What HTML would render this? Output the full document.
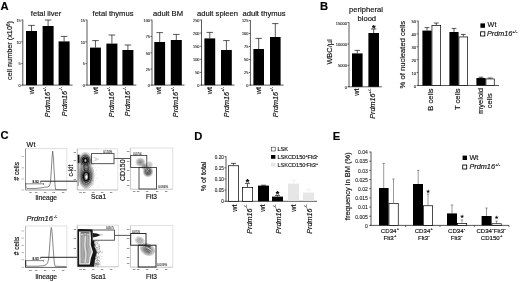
<!DOCTYPE html>
<html><head><meta charset="utf-8"><title>Figure</title>
<style>
html,body{margin:0;padding:0;background:#fff;}
svg{display:block;font-family:'Liberation Sans', sans-serif;}
</style></head><body>
<svg width="520" height="282" viewBox="0 0 520 282">
<rect width="520" height="282" fill="#fff"/>
<text x="0.60" y="10.10" font-size="11.2" text-anchor="start" font-weight="bold" font-style="normal" fill="#000" stroke="#000" stroke-width="0.16" >A</text>
<line x1="22.80" y1="19.70" x2="22.80" y2="85.45" stroke="#111" stroke-width="0.7" />
<line x1="22.45" y1="85.10" x2="72.60" y2="85.10" stroke="#111" stroke-width="0.7" />
<line x1="21.20" y1="20.00" x2="22.80" y2="20.00" stroke="#111" stroke-width="0.6" />
<text x="20.70" y="21.87" font-size="3.8" text-anchor="end" font-weight="normal" font-style="normal" fill="#222" stroke="#222" stroke-width="0.1" >15</text>
<line x1="21.20" y1="41.80" x2="22.80" y2="41.80" stroke="#111" stroke-width="0.6" />
<text x="20.70" y="43.67" font-size="3.8" text-anchor="end" font-weight="normal" font-style="normal" fill="#222" stroke="#222" stroke-width="0.1" >10</text>
<line x1="21.20" y1="63.60" x2="22.80" y2="63.60" stroke="#111" stroke-width="0.6" />
<text x="20.70" y="65.47" font-size="3.8" text-anchor="end" font-weight="normal" font-style="normal" fill="#222" stroke="#222" stroke-width="0.1" >5</text>
<line x1="21.20" y1="85.10" x2="22.80" y2="85.10" stroke="#111" stroke-width="0.6" />
<text x="20.70" y="86.97" font-size="3.8" text-anchor="end" font-weight="normal" font-style="normal" fill="#222" stroke="#222" stroke-width="0.1" >0</text>
<line x1="31.50" y1="25.40" x2="31.50" y2="31.00" stroke="#111" stroke-width="0.7" />
<line x1="28.20" y1="25.40" x2="34.80" y2="25.40" stroke="#111" stroke-width="0.7" />
<rect x="26.00" y="31.00" width="11.00" height="54.10" fill="#000" stroke="none" stroke-width="0.7" />
<line x1="48.10" y1="20.00" x2="48.10" y2="26.00" stroke="#111" stroke-width="0.7" />
<line x1="44.80" y1="20.00" x2="51.40" y2="20.00" stroke="#111" stroke-width="0.7" />
<rect x="42.60" y="26.00" width="11.00" height="59.10" fill="#000" stroke="none" stroke-width="0.7" />
<line x1="64.10" y1="36.40" x2="64.10" y2="41.40" stroke="#111" stroke-width="0.7" />
<line x1="60.80" y1="36.40" x2="67.40" y2="36.40" stroke="#111" stroke-width="0.7" />
<rect x="58.60" y="41.40" width="11.00" height="43.70" fill="#000" stroke="none" stroke-width="0.7" />
<text x="34.00" y="87.00" font-size="7.2" text-anchor="end" font-weight="normal" font-style="normal" fill="#111" stroke="#111" stroke-width="0.16" transform="rotate(-90 34.00 87.00)" >wt</text>
<text x="50.30" y="87.00" font-size="7.2" text-anchor="end" font-weight="normal" font-style="italic" fill="#111" stroke="#111" stroke-width="0.16" transform="rotate(-90 50.30 87.00)" >Prdm16<tspan font-size="4.0" dy="-4.3" dx="0.2">+/-</tspan></text>
<text x="66.80" y="87.00" font-size="7.2" text-anchor="end" font-weight="normal" font-style="italic" fill="#111" stroke="#111" stroke-width="0.16" transform="rotate(-90 66.80 87.00)" >Prdm16<tspan font-size="4.0" dy="-4.3" dx="0.2">-/-</tspan></text>
<text x="46.00" y="15.60" font-size="7.6" text-anchor="middle" font-weight="normal" font-style="normal" fill="#111" stroke="#111" stroke-width="0.16" >fetal liver</text>
<text x="12.20" y="50.50" font-size="7.3" text-anchor="middle" font-weight="normal" font-style="normal" fill="#111" stroke="#111" stroke-width="0.16" transform="rotate(-90 12.20 50.50)" >cell number (x10<tspan font-size="4.6" dy="-2.6">6</tspan><tspan dy="2.6">)</tspan></text>
<line x1="87.00" y1="19.70" x2="87.00" y2="85.45" stroke="#111" stroke-width="0.7" />
<line x1="86.65" y1="85.10" x2="136.40" y2="85.10" stroke="#111" stroke-width="0.7" />
<line x1="85.40" y1="20.00" x2="87.00" y2="20.00" stroke="#111" stroke-width="0.6" />
<text x="84.90" y="21.87" font-size="3.8" text-anchor="end" font-weight="normal" font-style="normal" fill="#222" stroke="#222" stroke-width="0.1" >15</text>
<line x1="85.40" y1="41.80" x2="87.00" y2="41.80" stroke="#111" stroke-width="0.6" />
<text x="84.90" y="43.67" font-size="3.8" text-anchor="end" font-weight="normal" font-style="normal" fill="#222" stroke="#222" stroke-width="0.1" >10</text>
<line x1="85.40" y1="63.60" x2="87.00" y2="63.60" stroke="#111" stroke-width="0.6" />
<text x="84.90" y="65.47" font-size="3.8" text-anchor="end" font-weight="normal" font-style="normal" fill="#222" stroke="#222" stroke-width="0.1" >5</text>
<line x1="85.40" y1="85.10" x2="87.00" y2="85.10" stroke="#111" stroke-width="0.6" />
<text x="84.90" y="86.97" font-size="3.8" text-anchor="end" font-weight="normal" font-style="normal" fill="#222" stroke="#222" stroke-width="0.1" >0</text>
<line x1="95.45" y1="40.60" x2="95.45" y2="47.60" stroke="#111" stroke-width="0.7" />
<line x1="92.18" y1="40.60" x2="98.72" y2="40.60" stroke="#111" stroke-width="0.7" />
<rect x="90.00" y="47.60" width="10.90" height="37.50" fill="#000" stroke="none" stroke-width="0.7" />
<line x1="111.90" y1="35.00" x2="111.90" y2="43.60" stroke="#111" stroke-width="0.7" />
<line x1="108.60" y1="35.00" x2="115.20" y2="35.00" stroke="#111" stroke-width="0.7" />
<rect x="106.40" y="43.60" width="11.00" height="41.50" fill="#000" stroke="none" stroke-width="0.7" />
<line x1="127.90" y1="45.00" x2="127.90" y2="50.00" stroke="#111" stroke-width="0.7" />
<line x1="124.60" y1="45.00" x2="131.20" y2="45.00" stroke="#111" stroke-width="0.7" />
<rect x="122.40" y="50.00" width="11.00" height="35.10" fill="#000" stroke="none" stroke-width="0.7" />
<text x="97.60" y="87.00" font-size="7.2" text-anchor="end" font-weight="normal" font-style="normal" fill="#111" stroke="#111" stroke-width="0.16" transform="rotate(-90 97.60 87.00)" >wt</text>
<text x="114.10" y="87.00" font-size="7.2" text-anchor="end" font-weight="normal" font-style="italic" fill="#111" stroke="#111" stroke-width="0.16" transform="rotate(-90 114.10 87.00)" >Prdm16<tspan font-size="4.0" dy="-4.3" dx="0.2">+/-</tspan></text>
<text x="130.40" y="87.00" font-size="7.2" text-anchor="end" font-weight="normal" font-style="italic" fill="#111" stroke="#111" stroke-width="0.16" transform="rotate(-90 130.40 87.00)" >Prdm16<tspan font-size="4.0" dy="-4.3" dx="0.2">-/-</tspan></text>
<text x="113.00" y="15.60" font-size="7.6" text-anchor="middle" font-weight="normal" font-style="normal" fill="#111" stroke="#111" stroke-width="0.16" >fetal thymus</text>
<line x1="152.00" y1="19.70" x2="152.00" y2="85.45" stroke="#111" stroke-width="0.7" />
<line x1="151.65" y1="85.10" x2="184.50" y2="85.10" stroke="#111" stroke-width="0.7" />
<line x1="150.40" y1="20.00" x2="152.00" y2="20.00" stroke="#111" stroke-width="0.6" />
<text x="149.90" y="21.87" font-size="3.8" text-anchor="end" font-weight="normal" font-style="normal" fill="#222" stroke="#222" stroke-width="0.1" >100</text>
<line x1="150.40" y1="36.40" x2="152.00" y2="36.40" stroke="#111" stroke-width="0.6" />
<text x="149.90" y="38.27" font-size="3.8" text-anchor="end" font-weight="normal" font-style="normal" fill="#222" stroke="#222" stroke-width="0.1" >75</text>
<line x1="150.40" y1="52.80" x2="152.00" y2="52.80" stroke="#111" stroke-width="0.6" />
<text x="149.90" y="54.67" font-size="3.8" text-anchor="end" font-weight="normal" font-style="normal" fill="#222" stroke="#222" stroke-width="0.1" >50</text>
<line x1="150.40" y1="69.10" x2="152.00" y2="69.10" stroke="#111" stroke-width="0.6" />
<text x="149.90" y="70.97" font-size="3.8" text-anchor="end" font-weight="normal" font-style="normal" fill="#222" stroke="#222" stroke-width="0.1" >25</text>
<line x1="150.40" y1="85.10" x2="152.00" y2="85.10" stroke="#111" stroke-width="0.6" />
<text x="149.90" y="86.97" font-size="3.8" text-anchor="end" font-weight="normal" font-style="normal" fill="#222" stroke="#222" stroke-width="0.1" >0</text>
<line x1="159.70" y1="32.60" x2="159.70" y2="42.00" stroke="#111" stroke-width="0.7" />
<line x1="156.46" y1="32.60" x2="162.94" y2="32.60" stroke="#111" stroke-width="0.7" />
<rect x="154.30" y="42.00" width="10.80" height="43.10" fill="#000" stroke="none" stroke-width="0.7" />
<line x1="176.30" y1="34.40" x2="176.30" y2="40.00" stroke="#111" stroke-width="0.7" />
<line x1="173.00" y1="34.40" x2="179.60" y2="34.40" stroke="#111" stroke-width="0.7" />
<rect x="170.80" y="40.00" width="11.00" height="45.10" fill="#000" stroke="none" stroke-width="0.7" />
<text x="161.20" y="87.00" font-size="7.2" text-anchor="end" font-weight="normal" font-style="normal" fill="#111" stroke="#111" stroke-width="0.16" transform="rotate(-90 161.20 87.00)" >wt</text>
<text x="178.40" y="87.00" font-size="7.2" text-anchor="end" font-weight="normal" font-style="italic" fill="#111" stroke="#111" stroke-width="0.16" transform="rotate(-90 178.40 87.00)" >Prdm16<tspan font-size="4.0" dy="-4.3" dx="0.2">+/-</tspan></text>
<text x="168.00" y="15.60" font-size="7.6" text-anchor="middle" font-weight="normal" font-style="normal" fill="#111" stroke="#111" stroke-width="0.16" >adult BM</text>
<line x1="201.50" y1="19.70" x2="201.50" y2="85.45" stroke="#111" stroke-width="0.7" />
<line x1="201.15" y1="85.10" x2="234.50" y2="85.10" stroke="#111" stroke-width="0.7" />
<line x1="199.90" y1="20.00" x2="201.50" y2="20.00" stroke="#111" stroke-width="0.6" />
<text x="199.40" y="21.87" font-size="3.8" text-anchor="end" font-weight="normal" font-style="normal" fill="#222" stroke="#222" stroke-width="0.1" >250</text>
<line x1="199.90" y1="33.10" x2="201.50" y2="33.10" stroke="#111" stroke-width="0.6" />
<text x="199.40" y="34.97" font-size="3.8" text-anchor="end" font-weight="normal" font-style="normal" fill="#222" stroke="#222" stroke-width="0.1" >200</text>
<line x1="199.90" y1="46.20" x2="201.50" y2="46.20" stroke="#111" stroke-width="0.6" />
<text x="199.40" y="48.07" font-size="3.8" text-anchor="end" font-weight="normal" font-style="normal" fill="#222" stroke="#222" stroke-width="0.1" >150</text>
<line x1="199.90" y1="59.30" x2="201.50" y2="59.30" stroke="#111" stroke-width="0.6" />
<text x="199.40" y="61.17" font-size="3.8" text-anchor="end" font-weight="normal" font-style="normal" fill="#222" stroke="#222" stroke-width="0.1" >100</text>
<line x1="199.90" y1="72.40" x2="201.50" y2="72.40" stroke="#111" stroke-width="0.6" />
<text x="199.40" y="74.27" font-size="3.8" text-anchor="end" font-weight="normal" font-style="normal" fill="#222" stroke="#222" stroke-width="0.1" >50</text>
<line x1="199.90" y1="85.10" x2="201.50" y2="85.10" stroke="#111" stroke-width="0.6" />
<text x="199.40" y="86.97" font-size="3.8" text-anchor="end" font-weight="normal" font-style="normal" fill="#222" stroke="#222" stroke-width="0.1" >0</text>
<line x1="209.80" y1="32.40" x2="209.80" y2="38.40" stroke="#111" stroke-width="0.7" />
<line x1="206.56" y1="32.40" x2="213.04" y2="32.40" stroke="#111" stroke-width="0.7" />
<rect x="204.40" y="38.40" width="10.80" height="46.70" fill="#000" stroke="none" stroke-width="0.7" />
<line x1="226.40" y1="40.60" x2="226.40" y2="50.00" stroke="#111" stroke-width="0.7" />
<line x1="223.16" y1="40.60" x2="229.64" y2="40.60" stroke="#111" stroke-width="0.7" />
<rect x="221.00" y="50.00" width="10.80" height="35.10" fill="#000" stroke="none" stroke-width="0.7" />
<text x="212.40" y="87.00" font-size="7.2" text-anchor="end" font-weight="normal" font-style="normal" fill="#111" stroke="#111" stroke-width="0.16" transform="rotate(-90 212.40 87.00)" >wt</text>
<text x="228.80" y="87.00" font-size="7.2" text-anchor="end" font-weight="normal" font-style="italic" fill="#111" stroke="#111" stroke-width="0.16" transform="rotate(-90 228.80 87.00)" >Prdm16<tspan font-size="4.0" dy="-4.3" dx="0.2">+/-</tspan></text>
<text x="217.50" y="15.60" font-size="7.6" text-anchor="middle" font-weight="normal" font-style="normal" fill="#111" stroke="#111" stroke-width="0.16" >adult spleen</text>
<line x1="250.40" y1="20.20" x2="250.40" y2="85.45" stroke="#111" stroke-width="0.7" />
<line x1="250.05" y1="85.10" x2="283.60" y2="85.10" stroke="#111" stroke-width="0.7" />
<line x1="248.80" y1="20.50" x2="250.40" y2="20.50" stroke="#111" stroke-width="0.6" />
<text x="248.30" y="22.37" font-size="3.8" text-anchor="end" font-weight="normal" font-style="normal" fill="#222" stroke="#222" stroke-width="0.1" >125</text>
<line x1="248.80" y1="33.50" x2="250.40" y2="33.50" stroke="#111" stroke-width="0.6" />
<text x="248.30" y="35.37" font-size="3.8" text-anchor="end" font-weight="normal" font-style="normal" fill="#222" stroke="#222" stroke-width="0.1" >100</text>
<line x1="248.80" y1="46.50" x2="250.40" y2="46.50" stroke="#111" stroke-width="0.6" />
<text x="248.30" y="48.37" font-size="3.8" text-anchor="end" font-weight="normal" font-style="normal" fill="#222" stroke="#222" stroke-width="0.1" >75</text>
<line x1="248.80" y1="59.50" x2="250.40" y2="59.50" stroke="#111" stroke-width="0.6" />
<text x="248.30" y="61.37" font-size="3.8" text-anchor="end" font-weight="normal" font-style="normal" fill="#222" stroke="#222" stroke-width="0.1" >50</text>
<line x1="248.80" y1="72.50" x2="250.40" y2="72.50" stroke="#111" stroke-width="0.6" />
<text x="248.30" y="74.37" font-size="3.8" text-anchor="end" font-weight="normal" font-style="normal" fill="#222" stroke="#222" stroke-width="0.1" >25</text>
<line x1="248.80" y1="85.10" x2="250.40" y2="85.10" stroke="#111" stroke-width="0.6" />
<text x="248.30" y="86.97" font-size="3.8" text-anchor="end" font-weight="normal" font-style="normal" fill="#222" stroke="#222" stroke-width="0.1" >0</text>
<line x1="258.70" y1="38.40" x2="258.70" y2="49.00" stroke="#111" stroke-width="0.7" />
<line x1="255.52" y1="38.40" x2="261.88" y2="38.40" stroke="#111" stroke-width="0.7" />
<rect x="253.40" y="49.00" width="10.60" height="36.10" fill="#000" stroke="none" stroke-width="0.7" />
<line x1="275.30" y1="23.60" x2="275.30" y2="37.00" stroke="#111" stroke-width="0.7" />
<line x1="272.12" y1="23.60" x2="278.48" y2="23.60" stroke="#111" stroke-width="0.7" />
<rect x="270.00" y="37.00" width="10.60" height="48.10" fill="#000" stroke="none" stroke-width="0.7" />
<text x="261.40" y="87.00" font-size="7.2" text-anchor="end" font-weight="normal" font-style="normal" fill="#111" stroke="#111" stroke-width="0.16" transform="rotate(-90 261.40 87.00)" >wt</text>
<text x="277.80" y="87.00" font-size="7.2" text-anchor="end" font-weight="normal" font-style="italic" fill="#111" stroke="#111" stroke-width="0.16" transform="rotate(-90 277.80 87.00)" >Prdm16<tspan font-size="4.0" dy="-4.3" dx="0.2">+/-</tspan></text>
<text x="264.00" y="15.60" font-size="7.6" text-anchor="middle" font-weight="normal" font-style="normal" fill="#111" stroke="#111" stroke-width="0.16" >adult thymus</text>
<text x="320.00" y="10.10" font-size="11.2" text-anchor="start" font-weight="bold" font-style="normal" fill="#000" stroke="#000" stroke-width="0.16" >B</text>
<text x="366.00" y="11.90" font-size="7.6" text-anchor="middle" font-weight="normal" font-style="normal" fill="#111" stroke="#111" stroke-width="0.16" >peripheral</text>
<text x="366.80" y="20.80" font-size="7.6" text-anchor="middle" font-weight="normal" font-style="normal" fill="#111" stroke="#111" stroke-width="0.16" >blood</text>
<line x1="349.00" y1="22.30" x2="349.00" y2="87.15" stroke="#111" stroke-width="0.7" />
<line x1="348.65" y1="86.80" x2="381.80" y2="86.80" stroke="#111" stroke-width="0.7" />
<line x1="347.40" y1="22.60" x2="349.00" y2="22.60" stroke="#111" stroke-width="0.6" />
<text x="346.90" y="24.54" font-size="4.0" text-anchor="end" font-weight="normal" font-style="normal" fill="#222" stroke="#222" stroke-width="0.1" >15000</text>
<line x1="347.40" y1="44.00" x2="349.00" y2="44.00" stroke="#111" stroke-width="0.6" />
<text x="346.90" y="45.94" font-size="4.0" text-anchor="end" font-weight="normal" font-style="normal" fill="#222" stroke="#222" stroke-width="0.1" >10000</text>
<line x1="347.40" y1="65.40" x2="349.00" y2="65.40" stroke="#111" stroke-width="0.6" />
<text x="346.90" y="67.34" font-size="4.0" text-anchor="end" font-weight="normal" font-style="normal" fill="#222" stroke="#222" stroke-width="0.1" >5000</text>
<line x1="347.40" y1="86.80" x2="349.00" y2="86.80" stroke="#111" stroke-width="0.6" />
<text x="346.90" y="88.74" font-size="4.0" text-anchor="end" font-weight="normal" font-style="normal" fill="#222" stroke="#222" stroke-width="0.1" >0</text>
<line x1="357.30" y1="50.40" x2="357.30" y2="53.40" stroke="#111" stroke-width="0.7" />
<line x1="354.60" y1="50.40" x2="360.00" y2="50.40" stroke="#111" stroke-width="0.7" />
<rect x="352.00" y="53.40" width="10.60" height="33.40" fill="#000" stroke="none" stroke-width="0.7" />
<line x1="373.70" y1="29.00" x2="373.70" y2="33.00" stroke="#111" stroke-width="0.7" />
<line x1="371.00" y1="29.00" x2="376.40" y2="29.00" stroke="#111" stroke-width="0.7" />
<rect x="368.40" y="33.00" width="10.60" height="53.80" fill="#000" stroke="none" stroke-width="0.7" />
<text x="358.80" y="88.60" font-size="7.2" text-anchor="end" font-weight="normal" font-style="normal" fill="#111" stroke="#111" stroke-width="0.16" transform="rotate(-90 358.80 88.60)" >wt</text>
<text x="375.00" y="88.60" font-size="7.2" text-anchor="end" font-weight="normal" font-style="italic" fill="#111" stroke="#111" stroke-width="0.16" transform="rotate(-90 375.00 88.60)" >Prdm16<tspan font-size="4.0" dy="-4.3" dx="0.2">+/-</tspan></text>
<text x="373.70" y="31.20" font-size="9" text-anchor="middle" font-weight="bold" font-style="normal" fill="#000" stroke="#000" stroke-width="0.16" >*</text>
<text x="332.40" y="52.00" font-size="7.4" text-anchor="middle" font-weight="normal" font-style="normal" fill="#111" stroke="#111" stroke-width="0.16" transform="rotate(-90 332.40 52.00)" >WBC/µl</text>
<line x1="418.20" y1="20.70" x2="418.20" y2="85.85" stroke="#111" stroke-width="0.7" />
<line x1="417.85" y1="85.50" x2="499.00" y2="85.50" stroke="#111" stroke-width="0.7" />
<line x1="416.60" y1="21.00" x2="418.20" y2="21.00" stroke="#111" stroke-width="0.6" />
<text x="416.10" y="23.01" font-size="4.2" text-anchor="end" font-weight="normal" font-style="normal" fill="#222" stroke="#222" stroke-width="0.1" >50</text>
<line x1="416.60" y1="33.90" x2="418.20" y2="33.90" stroke="#111" stroke-width="0.6" />
<text x="416.10" y="35.91" font-size="4.2" text-anchor="end" font-weight="normal" font-style="normal" fill="#222" stroke="#222" stroke-width="0.1" >40</text>
<line x1="416.60" y1="46.80" x2="418.20" y2="46.80" stroke="#111" stroke-width="0.6" />
<text x="416.10" y="48.81" font-size="4.2" text-anchor="end" font-weight="normal" font-style="normal" fill="#222" stroke="#222" stroke-width="0.1" >30</text>
<line x1="416.60" y1="59.70" x2="418.20" y2="59.70" stroke="#111" stroke-width="0.6" />
<text x="416.10" y="61.71" font-size="4.2" text-anchor="end" font-weight="normal" font-style="normal" fill="#222" stroke="#222" stroke-width="0.1" >20</text>
<line x1="416.60" y1="72.60" x2="418.20" y2="72.60" stroke="#111" stroke-width="0.6" />
<text x="416.10" y="74.61" font-size="4.2" text-anchor="end" font-weight="normal" font-style="normal" fill="#222" stroke="#222" stroke-width="0.1" >10</text>
<line x1="416.60" y1="85.50" x2="418.20" y2="85.50" stroke="#111" stroke-width="0.6" />
<text x="416.10" y="87.51" font-size="4.2" text-anchor="end" font-weight="normal" font-style="normal" fill="#222" stroke="#222" stroke-width="0.1" >0</text>
<line x1="427.00" y1="27.60" x2="427.00" y2="30.60" stroke="#111" stroke-width="0.7" />
<line x1="424.60" y1="27.60" x2="429.40" y2="27.60" stroke="#111" stroke-width="0.7" />
<rect x="422.40" y="30.60" width="9.20" height="54.90" fill="#000" stroke="none" stroke-width="0.7" />
<line x1="436.30" y1="23.00" x2="436.30" y2="25.20" stroke="#111" stroke-width="0.7" />
<line x1="433.90" y1="23.00" x2="438.70" y2="23.00" stroke="#111" stroke-width="0.7" />
<rect x="431.95" y="25.55" width="8.70" height="59.95" fill="#fff" stroke="#000" stroke-width="0.7" />
<line x1="454.00" y1="28.40" x2="454.00" y2="32.00" stroke="#111" stroke-width="0.7" />
<line x1="451.60" y1="28.40" x2="456.40" y2="28.40" stroke="#111" stroke-width="0.7" />
<rect x="449.40" y="32.00" width="9.20" height="53.50" fill="#000" stroke="none" stroke-width="0.7" />
<line x1="463.30" y1="34.40" x2="463.30" y2="36.60" stroke="#111" stroke-width="0.7" />
<line x1="460.90" y1="34.40" x2="465.70" y2="34.40" stroke="#111" stroke-width="0.7" />
<rect x="458.95" y="36.95" width="8.70" height="48.55" fill="#fff" stroke="#000" stroke-width="0.7" />
<line x1="481.00" y1="77.20" x2="481.00" y2="78.00" stroke="#111" stroke-width="0.7" />
<line x1="478.60" y1="77.20" x2="483.40" y2="77.20" stroke="#111" stroke-width="0.7" />
<rect x="476.40" y="78.00" width="9.20" height="7.50" fill="#000" stroke="none" stroke-width="0.7" />
<line x1="490.10" y1="78.00" x2="490.10" y2="78.60" stroke="#111" stroke-width="0.7" />
<line x1="487.70" y1="78.00" x2="492.50" y2="78.00" stroke="#111" stroke-width="0.7" />
<rect x="485.95" y="78.95" width="8.30" height="6.55" fill="#fff" stroke="#000" stroke-width="0.7" />
<text x="405.40" y="54.60" font-size="7.6" text-anchor="middle" font-weight="normal" font-style="normal" fill="#111" stroke="#111" stroke-width="0.16" transform="rotate(-90 405.40 54.60)" >% of nucleated cells</text>
<text x="432.70" y="88.40" font-size="7.55" text-anchor="end" font-weight="normal" font-style="normal" fill="#111" stroke="#111" stroke-width="0.16" transform="rotate(-90 432.70 88.40)" >B cells</text>
<text x="459.80" y="88.40" font-size="7.55" text-anchor="end" font-weight="normal" font-style="normal" fill="#111" stroke="#111" stroke-width="0.16" transform="rotate(-90 459.80 88.40)" >T cells</text>
<text x="483.20" y="101.00" font-size="7.55" text-anchor="middle" font-weight="normal" font-style="normal" fill="#111" stroke="#111" stroke-width="0.16" transform="rotate(-90 483.20 101.00)" >myeloid</text>
<text x="491.80" y="100.80" font-size="7.45" text-anchor="middle" font-weight="normal" font-style="normal" fill="#111" stroke="#111" stroke-width="0.16" transform="rotate(-90 491.80 100.80)" >cells</text>
<rect x="480.40" y="23.40" width="4.60" height="4.40" fill="#000" stroke="none" stroke-width="0.7" />
<text x="487.60" y="27.30" font-size="7.2" text-anchor="start" font-weight="normal" font-style="normal" fill="#111" stroke="#111" stroke-width="0.16" >Wt</text>
<rect x="480.60" y="31.80" width="4.20" height="4.20" fill="#fff" stroke="#000" stroke-width="0.85" />
<text x="487.00" y="36.10" font-size="7.2" text-anchor="start" font-weight="normal" font-style="italic" fill="#111" stroke="#111" stroke-width="0.16" >Prdm16<tspan font-size="4.2" dy="-3.0" dx="0.2">+/-</tspan></text>
<text x="194.20" y="139.60" font-size="11.2" text-anchor="start" font-weight="bold" font-style="normal" fill="#000" stroke="#000" stroke-width="0.16" >D</text>
<line x1="226.00" y1="156.30" x2="226.00" y2="201.65" stroke="#111" stroke-width="0.7" />
<line x1="225.65" y1="201.30" x2="317.00" y2="201.30" stroke="#111" stroke-width="0.7" />
<line x1="224.40" y1="156.60" x2="226.00" y2="156.60" stroke="#111" stroke-width="0.6" />
<text x="223.90" y="158.79" font-size="4.7" text-anchor="end" font-weight="normal" font-style="normal" fill="#222" stroke="#222" stroke-width="0.1" >0.20</text>
<line x1="224.40" y1="167.80" x2="226.00" y2="167.80" stroke="#111" stroke-width="0.6" />
<text x="223.90" y="169.99" font-size="4.7" text-anchor="end" font-weight="normal" font-style="normal" fill="#222" stroke="#222" stroke-width="0.1" >0.15</text>
<line x1="224.40" y1="179.00" x2="226.00" y2="179.00" stroke="#111" stroke-width="0.6" />
<text x="223.90" y="181.19" font-size="4.7" text-anchor="end" font-weight="normal" font-style="normal" fill="#222" stroke="#222" stroke-width="0.1" >0.10</text>
<line x1="224.40" y1="190.10" x2="226.00" y2="190.10" stroke="#111" stroke-width="0.6" />
<text x="223.90" y="192.29" font-size="4.7" text-anchor="end" font-weight="normal" font-style="normal" fill="#222" stroke="#222" stroke-width="0.1" >0.05</text>
<line x1="224.40" y1="201.30" x2="226.00" y2="201.30" stroke="#111" stroke-width="0.6" />
<text x="223.90" y="203.49" font-size="4.7" text-anchor="end" font-weight="normal" font-style="normal" fill="#222" stroke="#222" stroke-width="0.1" >0</text>
<line x1="233.50" y1="163.40" x2="233.50" y2="165.40" stroke="#111" stroke-width="0.7" />
<line x1="231.00" y1="163.40" x2="236.00" y2="163.40" stroke="#111" stroke-width="0.7" />
<rect x="228.35" y="165.75" width="10.30" height="35.55" fill="#fff" stroke="#000" stroke-width="0.7" />
<line x1="247.50" y1="183.40" x2="247.50" y2="187.00" stroke="#111" stroke-width="0.7" />
<line x1="245.00" y1="183.40" x2="250.00" y2="183.40" stroke="#111" stroke-width="0.7" />
<rect x="242.35" y="187.35" width="10.30" height="13.95" fill="#fff" stroke="#000" stroke-width="0.7" />
<line x1="263.50" y1="185.20" x2="263.50" y2="185.60" stroke="#111" stroke-width="0.7" />
<line x1="261.00" y1="185.20" x2="266.00" y2="185.20" stroke="#111" stroke-width="0.7" />
<rect x="258.00" y="185.60" width="11.00" height="15.70" fill="#000" stroke="none" stroke-width="0.7" />
<line x1="277.50" y1="195.40" x2="277.50" y2="196.60" stroke="#111" stroke-width="0.7" />
<line x1="275.00" y1="195.40" x2="280.00" y2="195.40" stroke="#111" stroke-width="0.7" />
<rect x="272.00" y="196.60" width="11.00" height="4.70" fill="#000" stroke="none" stroke-width="0.7" />
<text x="237.00" y="204.60" font-size="7.2" text-anchor="end" font-weight="normal" font-style="normal" fill="#111" stroke="#111" stroke-width="0.16" transform="rotate(-90 237.00 204.60)" >wt</text>
<text x="251.80" y="204.60" font-size="7.2" text-anchor="end" font-weight="normal" font-style="italic" fill="#111" stroke="#111" stroke-width="0.16" transform="rotate(-90 251.80 204.60)" >Prdm16<tspan font-size="4.0" dy="-4.3" dx="0.2">-/-</tspan></text>
<text x="265.00" y="204.60" font-size="7.2" text-anchor="end" font-weight="normal" font-style="normal" fill="#111" stroke="#111" stroke-width="0.16" transform="rotate(-90 265.00 204.60)" >wt</text>
<text x="280.80" y="204.60" font-size="7.2" text-anchor="end" font-weight="normal" font-style="italic" fill="#111" stroke="#111" stroke-width="0.16" transform="rotate(-90 280.80 204.60)" >Prdm16<tspan font-size="4.0" dy="-4.3" dx="0.2">-/-</tspan></text>
<line x1="293.50" y1="180.00" x2="293.50" y2="183.60" stroke="#ebebeb" stroke-width="0.7" />
<line x1="291.00" y1="180.00" x2="296.00" y2="180.00" stroke="#ebebeb" stroke-width="0.7" />
<rect x="288.00" y="183.60" width="11.00" height="17.40" fill="#e6e6e6" stroke="none" stroke-width="0.7" />
<line x1="308.50" y1="189.40" x2="308.50" y2="192.60" stroke="#ebebeb" stroke-width="0.7" />
<line x1="306.00" y1="189.40" x2="311.00" y2="189.40" stroke="#ebebeb" stroke-width="0.7" />
<rect x="303.00" y="192.60" width="11.00" height="8.40" fill="#e6e6e6" stroke="none" stroke-width="0.7" />
<text x="295.80" y="204.60" font-size="7.2" text-anchor="end" font-weight="normal" font-style="normal" fill="#111" stroke="#111" stroke-width="0.16" transform="rotate(-90 295.80 204.60)" >wt</text>
<text x="311.60" y="204.60" font-size="7.2" text-anchor="end" font-weight="normal" font-style="italic" fill="#111" stroke="#111" stroke-width="0.16" transform="rotate(-90 311.60 204.60)" >Prdm16<tspan font-size="4.0" dy="-4.3" dx="0.2">-/-</tspan></text>
<text x="247.60" y="184.60" font-size="9" text-anchor="middle" font-weight="bold" font-style="normal" fill="#000" stroke="#000" stroke-width="0.16" >*</text>
<text x="277.50" y="197.20" font-size="9" text-anchor="middle" font-weight="bold" font-style="normal" fill="#000" stroke="#000" stroke-width="0.16" >*</text>
<text x="206.30" y="176.40" font-size="7.1" text-anchor="middle" font-weight="normal" font-style="normal" fill="#111" stroke="#111" stroke-width="0.16" transform="rotate(-90 206.30 176.40)" >% of total</text>
<rect x="271.30" y="147.20" width="3.90" height="3.80" fill="#fff" stroke="#333" stroke-width="0.6" />
<text x="277.40" y="151.20" font-size="5.6" text-anchor="start" font-weight="normal" font-style="normal" fill="#111" stroke="#111" stroke-width="0.16" >LSK</text>
<rect x="271.00" y="155.00" width="4.40" height="3.80" fill="#000" stroke="none" stroke-width="0.7" />
<text x="277.40" y="159.10" font-size="5.6" text-anchor="start" font-weight="normal" font-style="normal" fill="#111" stroke="#111" stroke-width="0.16" >LSKCD150<tspan font-size="3.6" dy="-2">+</tspan><tspan dy="2">Flt3</tspan><tspan font-size="3.6" dy="-2">-</tspan></text>
<rect x="271.00" y="162.60" width="4.40" height="3.80" fill="#e6e6e6" stroke="none" stroke-width="0.7" />
<text x="277.40" y="166.80" font-size="5.6" text-anchor="start" font-weight="normal" font-style="normal" fill="#222" stroke="#222" stroke-width="0.16" >LSKCD150<tspan font-size="3.6" dy="-2">-</tspan><tspan dy="2">Flt3</tspan><tspan font-size="3.6" dy="-2">+</tspan></text>
<text x="332.80" y="139.60" font-size="11.2" text-anchor="start" font-weight="bold" font-style="normal" fill="#000" stroke="#000" stroke-width="0.16" >E</text>
<line x1="383.70" y1="163.40" x2="383.70" y2="188.00" stroke="#555" stroke-width="0.6" />
<line x1="382.50" y1="163.40" x2="384.90" y2="163.40" stroke="#555" stroke-width="0.6" />
<line x1="393.50" y1="179.00" x2="393.50" y2="203.00" stroke="#555" stroke-width="0.6" />
<line x1="392.30" y1="179.00" x2="394.70" y2="179.00" stroke="#555" stroke-width="0.6" />
<line x1="418.20" y1="170.40" x2="418.20" y2="184.00" stroke="#555" stroke-width="0.6" />
<line x1="417.00" y1="170.40" x2="419.40" y2="170.40" stroke="#555" stroke-width="0.6" />
<line x1="428.00" y1="194.00" x2="428.00" y2="205.40" stroke="#555" stroke-width="0.6" />
<line x1="426.80" y1="194.00" x2="429.20" y2="194.00" stroke="#555" stroke-width="0.6" />
<line x1="452.00" y1="205.00" x2="452.00" y2="213.40" stroke="#555" stroke-width="0.6" />
<line x1="450.80" y1="205.00" x2="453.20" y2="205.00" stroke="#555" stroke-width="0.6" />
<line x1="462.00" y1="220.00" x2="462.00" y2="222.60" stroke="#555" stroke-width="0.6" />
<line x1="460.80" y1="220.00" x2="463.20" y2="220.00" stroke="#555" stroke-width="0.6" />
<line x1="486.50" y1="208.00" x2="486.50" y2="216.00" stroke="#555" stroke-width="0.6" />
<line x1="485.30" y1="208.00" x2="487.70" y2="208.00" stroke="#555" stroke-width="0.6" />
<line x1="496.50" y1="221.00" x2="496.50" y2="223.40" stroke="#555" stroke-width="0.6" />
<line x1="495.30" y1="221.00" x2="497.70" y2="221.00" stroke="#555" stroke-width="0.6" />
<line x1="371.00" y1="151.70" x2="371.00" y2="225.75" stroke="#111" stroke-width="0.7" />
<line x1="370.65" y1="225.40" x2="509.00" y2="225.40" stroke="#111" stroke-width="0.7" />
<line x1="369.20" y1="152.00" x2="371.00" y2="152.00" stroke="#111" stroke-width="0.6" />
<text x="367.80" y="154.30" font-size="5.0" text-anchor="end" font-weight="normal" font-style="normal" fill="#222" stroke="#222" stroke-width="0.1" >0.04</text>
<line x1="369.20" y1="161.18" x2="371.00" y2="161.18" stroke="#111" stroke-width="0.6" />
<text x="367.80" y="163.48" font-size="5.0" text-anchor="end" font-weight="normal" font-style="normal" fill="#222" stroke="#222" stroke-width="0.1" >0.035</text>
<line x1="369.20" y1="170.35" x2="371.00" y2="170.35" stroke="#111" stroke-width="0.6" />
<text x="367.80" y="172.65" font-size="5.0" text-anchor="end" font-weight="normal" font-style="normal" fill="#222" stroke="#222" stroke-width="0.1" >0.03</text>
<line x1="369.20" y1="179.53" x2="371.00" y2="179.53" stroke="#111" stroke-width="0.6" />
<text x="367.80" y="181.83" font-size="5.0" text-anchor="end" font-weight="normal" font-style="normal" fill="#222" stroke="#222" stroke-width="0.1" >0.025</text>
<line x1="369.20" y1="188.70" x2="371.00" y2="188.70" stroke="#111" stroke-width="0.6" />
<text x="367.80" y="191.00" font-size="5.0" text-anchor="end" font-weight="normal" font-style="normal" fill="#222" stroke="#222" stroke-width="0.1" >0.02</text>
<line x1="369.20" y1="197.88" x2="371.00" y2="197.88" stroke="#111" stroke-width="0.6" />
<text x="367.80" y="200.18" font-size="5.0" text-anchor="end" font-weight="normal" font-style="normal" fill="#222" stroke="#222" stroke-width="0.1" >0.015</text>
<line x1="369.20" y1="207.05" x2="371.00" y2="207.05" stroke="#111" stroke-width="0.6" />
<text x="367.80" y="209.35" font-size="5.0" text-anchor="end" font-weight="normal" font-style="normal" fill="#222" stroke="#222" stroke-width="0.1" >0.01</text>
<line x1="369.20" y1="216.23" x2="371.00" y2="216.23" stroke="#111" stroke-width="0.6" />
<text x="367.80" y="218.53" font-size="5.0" text-anchor="end" font-weight="normal" font-style="normal" fill="#222" stroke="#222" stroke-width="0.1" >0.005</text>
<line x1="369.20" y1="225.40" x2="371.00" y2="225.40" stroke="#111" stroke-width="0.6" />
<text x="367.80" y="227.70" font-size="5.0" text-anchor="end" font-weight="normal" font-style="normal" fill="#222" stroke="#222" stroke-width="0.1" >0</text>
<rect x="379.00" y="188.00" width="9.60" height="37.40" fill="#000" stroke="none" stroke-width="0.7" />
<rect x="388.95" y="203.35" width="9.30" height="22.05" fill="#fff" stroke="#000" stroke-width="0.7" />
<rect x="413.00" y="184.00" width="10.00" height="41.40" fill="#000" stroke="none" stroke-width="0.7" />
<rect x="423.35" y="205.75" width="9.30" height="19.65" fill="#fff" stroke="#000" stroke-width="0.7" />
<rect x="447.00" y="213.40" width="10.00" height="12.00" fill="#000" stroke="none" stroke-width="0.7" />
<rect x="457.35" y="223.35" width="9.30" height="2.05" fill="#fff" stroke="#000" stroke-width="0.7" />
<rect x="481.60" y="216.00" width="10.00" height="9.40" fill="#000" stroke="none" stroke-width="0.7" />
<rect x="491.95" y="223.75" width="9.30" height="1.65" fill="#fff" stroke="#000" stroke-width="0.7" />
<line x1="405.70" y1="225.40" x2="405.70" y2="227.00" stroke="#111" stroke-width="0.6" />
<line x1="440.00" y1="225.40" x2="440.00" y2="227.00" stroke="#111" stroke-width="0.6" />
<line x1="474.30" y1="225.40" x2="474.30" y2="227.00" stroke="#111" stroke-width="0.6" />
<line x1="509.00" y1="225.40" x2="509.00" y2="227.00" stroke="#111" stroke-width="0.6" />
<text x="428.00" y="192.50" font-size="4.7" text-anchor="middle" font-weight="normal" font-style="normal" fill="#000" stroke="#000" stroke-width="0.1" font-family="DejaVu Sans, sans-serif">★</text>
<text x="462.00" y="218.20" font-size="4.7" text-anchor="middle" font-weight="normal" font-style="normal" fill="#000" stroke="#000" stroke-width="0.1" font-family="DejaVu Sans, sans-serif">★</text>
<text x="496.50" y="218.80" font-size="4.7" text-anchor="middle" font-weight="normal" font-style="normal" fill="#000" stroke="#000" stroke-width="0.1" font-family="DejaVu Sans, sans-serif">★</text>
<text x="349.60" y="186.20" font-size="7.5" text-anchor="middle" font-weight="normal" font-style="normal" fill="#111" stroke="#111" stroke-width="0.16" transform="rotate(-90 349.60 186.20)" >frequency in BM (%)</text>
<text x="389.90" y="233.00" font-size="6.1" text-anchor="middle" font-weight="normal" font-style="normal" fill="#111" stroke="#111" stroke-width="0.16" >CD34<tspan font-size="4.0" dy="-2.7" dx="0.2">+</tspan></text>
<text x="389.90" y="239.80" font-size="6.1" text-anchor="middle" font-weight="normal" font-style="normal" fill="#111" stroke="#111" stroke-width="0.16" >Flt3<tspan font-size="4.0" dy="-2.7" dx="0.2">+</tspan></text>
<text x="423.80" y="233.00" font-size="6.1" text-anchor="middle" font-weight="normal" font-style="normal" fill="#111" stroke="#111" stroke-width="0.16" >CD34<tspan font-size="4.0" dy="-2.7" dx="0.2">+</tspan></text>
<text x="423.80" y="239.80" font-size="6.1" text-anchor="middle" font-weight="normal" font-style="normal" fill="#111" stroke="#111" stroke-width="0.16" >Flt3<tspan font-size="4.0" dy="-2.7" dx="0.2">-</tspan></text>
<text x="456.60" y="233.00" font-size="6.1" text-anchor="middle" font-weight="normal" font-style="normal" fill="#111" stroke="#111" stroke-width="0.16" >CD34<tspan font-size="4.0" dy="-2.7" dx="0.2">-</tspan></text>
<text x="456.60" y="239.80" font-size="6.1" text-anchor="middle" font-weight="normal" font-style="normal" fill="#111" stroke="#111" stroke-width="0.16" >Flt3<tspan font-size="4.0" dy="-2.7" dx="0.2">-</tspan></text>
<text x="491.00" y="233.00" font-size="6.1" text-anchor="middle" font-weight="normal" font-style="normal" fill="#111" stroke="#111" stroke-width="0.16" >CD34<tspan font-size="4.0" dy="-2.7" dx="0.2">-</tspan><tspan dy="2.7" dx="0.3">Flt3</tspan><tspan font-size="4.0" dy="-2.7" dx="0.2">-</tspan></text>
<text x="491.50" y="239.80" font-size="6.1" text-anchor="middle" font-weight="normal" font-style="normal" fill="#111" stroke="#111" stroke-width="0.16" >CD150<tspan font-size="4.0" dy="-2.7" dx="0.2">+</tspan></text>
<rect x="462.60" y="155.60" width="4.40" height="4.40" fill="#000" stroke="none" stroke-width="0.7" />
<text x="469.40" y="160.00" font-size="7.3" text-anchor="start" font-weight="normal" font-style="normal" fill="#111" stroke="#111" stroke-width="0.16" >Wt</text>
<rect x="462.70" y="165.00" width="4.00" height="4.00" fill="#fff" stroke="#000" stroke-width="0.85" />
<text x="469.40" y="169.20" font-size="7.3" text-anchor="start" font-weight="normal" font-style="italic" fill="#111" stroke="#111" stroke-width="0.16" >Prdm16<tspan font-size="4.2" dy="-3.0" dx="0.2">+/-</tspan></text>
<defs>
<radialGradient id="gA"><stop offset="0" stop-color="#666" stop-opacity="0.85"/><stop offset="0.6" stop-color="#888" stop-opacity="0.6"/><stop offset="1" stop-color="#aaa" stop-opacity="0"/></radialGradient>
<radialGradient id="gB"><stop offset="0" stop-color="#333" stop-opacity="0.95"/><stop offset="0.55" stop-color="#555" stop-opacity="0.8"/><stop offset="1" stop-color="#999" stop-opacity="0"/></radialGradient>
<radialGradient id="gC"><stop offset="0" stop-color="#999" stop-opacity="0.7"/><stop offset="0.7" stop-color="#aaa" stop-opacity="0.45"/><stop offset="1" stop-color="#ccc" stop-opacity="0"/></radialGradient>
<radialGradient id="gD"><stop offset="0" stop-color="#555" stop-opacity="0.75"/><stop offset="0.75" stop-color="#777" stop-opacity="0.6"/><stop offset="1" stop-color="#aaa" stop-opacity="0"/></radialGradient>
</defs>
<text x="0.60" y="139.40" font-size="11.2" text-anchor="start" font-weight="bold" font-style="normal" fill="#000" stroke="#000" stroke-width="0.16">C</text>
<text x="26.60" y="147.10" font-size="7.2" text-anchor="start" font-weight="normal" font-style="normal" fill="#111" stroke="#111" stroke-width="0.16">Wt</text>
<line x1="25.50" y1="148.60" x2="66.80" y2="148.60" stroke="#c9c9c9" stroke-width="0.6" />
<line x1="66.80" y1="148.60" x2="66.80" y2="190.00" stroke="#c9c9c9" stroke-width="0.6" />
<line x1="25.50" y1="148.60" x2="25.50" y2="190.00" stroke="#666" stroke-width="0.7" />
<line x1="25.50" y1="190.00" x2="66.80" y2="190.00" stroke="#666" stroke-width="0.7" />
<path d="M25.7,183 L25.9,187.6 L27,188.4 L35,188.5 L41,187.9 L44.5,187.2 L47.5,187 L49.4,186.2 L50.4,183 L51.2,172 L52.0,158 L52.7,151.2 L53.4,158 L54.2,172 L55.0,185 L55.6,189.6 L66.6,189.8" fill="none" stroke="#555" stroke-width="0.7" stroke-linejoin="round"/>
<line x1="40.60" y1="181.20" x2="77.20" y2="181.20" stroke="#262626" stroke-width="1.0" />
<line x1="40.60" y1="181.00" x2="40.60" y2="182.80" stroke="#3a3a3a" stroke-width="0.7" />
<line x1="25.50" y1="183.80" x2="43.50" y2="183.80" stroke="#555" stroke-width="0.7" />
<line x1="43.50" y1="183.00" x2="43.50" y2="185.00" stroke="#555" stroke-width="0.6" />
<text x="35.60" y="183.10" font-size="3.1" text-anchor="middle" font-weight="bold" font-style="normal" fill="#222" stroke="#222" stroke-width="0.1">8.82</text>
<line x1="21.50" y1="156.50" x2="24.00" y2="156.50" stroke="#777" stroke-width="0.5" />
<line x1="21.50" y1="167.80" x2="24.00" y2="167.80" stroke="#777" stroke-width="0.5" />
<line x1="21.50" y1="179.00" x2="24.00" y2="179.00" stroke="#777" stroke-width="0.5" />
<line x1="21.50" y1="190.00" x2="24.00" y2="190.00" stroke="#777" stroke-width="0.5" />
<text x="30.50" y="193.20" font-size="2.4" text-anchor="middle" font-weight="normal" font-style="normal" fill="#666" stroke="#666" stroke-width="0.1">10</text>
<text x="36.00" y="193.20" font-size="2.4" text-anchor="middle" font-weight="normal" font-style="normal" fill="#666" stroke="#666" stroke-width="0.1">10</text>
<text x="45.00" y="193.20" font-size="2.4" text-anchor="middle" font-weight="normal" font-style="normal" fill="#666" stroke="#666" stroke-width="0.1">10</text>
<text x="53.70" y="193.20" font-size="2.4" text-anchor="middle" font-weight="normal" font-style="normal" fill="#666" stroke="#666" stroke-width="0.1">10</text>
<text x="63.00" y="193.20" font-size="2.4" text-anchor="middle" font-weight="normal" font-style="normal" fill="#666" stroke="#666" stroke-width="0.1">10</text>
<text x="18.60" y="171.20" font-size="6.5" text-anchor="middle" font-weight="normal" font-style="normal" fill="#111" stroke="#111" stroke-width="0.16" transform="rotate(-90 18.60 171.20)"># cells</text>
<text x="46.30" y="200.00" font-size="6.7" text-anchor="middle" font-weight="normal" font-style="normal" fill="#111" stroke="#111" stroke-width="0.16">lineage</text>
<line x1="77.30" y1="148.80" x2="117.80" y2="148.80" stroke="#c9c9c9" stroke-width="0.6" />
<line x1="117.80" y1="148.80" x2="117.80" y2="190.00" stroke="#c9c9c9" stroke-width="0.6" />
<line x1="77.30" y1="148.80" x2="77.30" y2="190.00" stroke="#999" stroke-width="0.7" />
<line x1="77.30" y1="190.00" x2="117.80" y2="190.00" stroke="#999" stroke-width="0.7" />
<ellipse cx="85.30" cy="171.00" rx="7.80" ry="18.50" fill="url(#gC)" stroke="none" stroke-width="0.6" opacity="1"/>
<ellipse cx="85.30" cy="160.60" rx="6.80" ry="7.80" fill="url(#gD)" stroke="none" stroke-width="0.6" opacity="1"/>
<ellipse cx="86.00" cy="175.60" rx="8.20" ry="12.80" fill="url(#gD)" stroke="none" stroke-width="0.6" opacity="1"/>
<path d="M85.2,152.6 C92.6,152.6 92.0,164.0 91.6,167.0 C95.6,171.0 95.0,188.6 86.0,188.8 C78.4,188.6 77.6,171.0 79.6,167.0 C78.0,164.0 78.2,152.6 85.2,152.6 Z" fill="none" stroke="#999" stroke-width="0.5"/>
<path d="M85.2,153.8 C91.3,153.8 90.8,164.0 90.3,167.0 C94.3,171.0 93.8,187.3 86.0,187.6 C79.7,187.3 78.8,171.0 80.8,167.0 C79.2,164.0 79.5,153.8 85.2,153.8 Z" fill="none" stroke="#7a7a7a" stroke-width="0.55"/>
<path d="M85.2,155.1 C90.1,155.1 89.5,164.0 89.1,167.0 C93.1,171.0 92.5,186.1 86.0,186.3 C80.9,186.1 80.1,171.0 82.1,167.0 C80.5,164.0 80.7,155.1 85.2,155.1 Z" fill="none" stroke="#5c5c5c" stroke-width="0.6"/>
<ellipse cx="86.20" cy="176.40" rx="5.00" ry="8.00" fill="none" stroke="#444" stroke-width="0.7" opacity="1"/>
<ellipse cx="86.20" cy="176.40" rx="3.80" ry="6.20" fill="none" stroke="#222" stroke-width="0.9" opacity="1"/>
<ellipse cx="86.20" cy="176.40" rx="2.60" ry="4.30" fill="none" stroke="#0a0a0a" stroke-width="1.4" opacity="1"/>
<ellipse cx="86.40" cy="177.00" rx="1.10" ry="1.80" fill="#fff" stroke="none" stroke-width="0.6" opacity="1"/>
<ellipse cx="85.40" cy="160.60" rx="4.60" ry="5.40" fill="none" stroke="#444" stroke-width="0.7" opacity="1"/>
<ellipse cx="85.40" cy="160.60" rx="3.30" ry="3.90" fill="none" stroke="#1a1a1a" stroke-width="1.0" opacity="1"/>
<ellipse cx="85.40" cy="160.60" rx="1.90" ry="2.40" fill="none" stroke="#0a0a0a" stroke-width="1.3" opacity="1"/>
<ellipse cx="85.40" cy="160.60" rx="0.60" ry="0.80" fill="#ccc" stroke="none" stroke-width="0.6" opacity="1"/>
<path d="M84.4,164.5 C83.4,167.5 84.2,169.5 85.2,171.6 M87.6,164.3 C88.6,167.5 88.2,169.5 87.8,171.6" fill="none" stroke="#222" stroke-width="0.9"/>
<rect x="77.70" y="154.60" width="1.80" height="8.60" fill="#151515" stroke="none" stroke-width="0.8" />
<rect x="77.70" y="163.20" width="1.30" height="22.80" fill="#777" stroke="none" stroke-width="0.8" opacity="0.6"/>
<circle cx="95.9" cy="167.6" r="0.3" fill="#999" opacity="0.6"/>
<circle cx="91.3" cy="176.9" r="0.3" fill="#999" opacity="0.6"/>
<circle cx="91.4" cy="164.9" r="0.3" fill="#999" opacity="0.6"/>
<circle cx="93.1" cy="174.2" r="0.3" fill="#999" opacity="0.6"/>
<circle cx="93.5" cy="169.4" r="0.3" fill="#999" opacity="0.6"/>
<circle cx="96.9" cy="177.9" r="0.3" fill="#999" opacity="0.6"/>
<circle cx="91.9" cy="184.6" r="0.3" fill="#999" opacity="0.6"/>
<circle cx="93.4" cy="171.4" r="0.3" fill="#999" opacity="0.6"/>
<circle cx="94.2" cy="178.0" r="0.3" fill="#999" opacity="0.6"/>
<circle cx="91.4" cy="177.1" r="0.3" fill="#999" opacity="0.6"/>
<circle cx="92.9" cy="180.3" r="0.3" fill="#999" opacity="0.6"/>
<circle cx="95.8" cy="174.9" r="0.3" fill="#999" opacity="0.6"/>
<circle cx="100.4" cy="169.9" r="0.3" fill="#999" opacity="0.6"/>
<circle cx="98.3" cy="185.0" r="0.3" fill="#999" opacity="0.6"/>
<circle cx="93.5" cy="187.5" r="0.3" fill="#999" opacity="0.6"/>
<circle cx="91.2" cy="167.6" r="0.3" fill="#999" opacity="0.6"/>
<circle cx="100.0" cy="182.3" r="0.3" fill="#999" opacity="0.6"/>
<circle cx="102.5" cy="171.5" r="0.3" fill="#999" opacity="0.6"/>
<circle cx="96.0" cy="177.9" r="0.3" fill="#999" opacity="0.6"/>
<circle cx="103.3" cy="175.4" r="0.3" fill="#999" opacity="0.6"/>
<circle cx="92.7" cy="180.8" r="0.3" fill="#999" opacity="0.6"/>
<circle cx="93.3" cy="183.7" r="0.3" fill="#999" opacity="0.6"/>
<circle cx="92.0" cy="164.5" r="0.3" fill="#999" opacity="0.6"/>
<circle cx="93.4" cy="165.4" r="0.3" fill="#999" opacity="0.6"/>
<circle cx="96.2" cy="169.9" r="0.3" fill="#999" opacity="0.6"/>
<circle cx="93.0" cy="174.8" r="0.3" fill="#999" opacity="0.6"/>
<circle cx="102.6" cy="183.7" r="0.3" fill="#999" opacity="0.6"/>
<circle cx="96.3" cy="174.0" r="0.3" fill="#999" opacity="0.6"/>
<circle cx="92.4" cy="167.6" r="0.3" fill="#999" opacity="0.6"/>
<circle cx="94.8" cy="175.6" r="0.3" fill="#999" opacity="0.6"/>
<circle cx="93.2" cy="164.1" r="0.3" fill="#999" opacity="0.6"/>
<circle cx="98.8" cy="186.9" r="0.3" fill="#999" opacity="0.6"/>
<circle cx="98.2" cy="178.8" r="0.3" fill="#999" opacity="0.6"/>
<circle cx="92.6" cy="185.6" r="0.3" fill="#999" opacity="0.6"/>
<circle cx="93.4" cy="183.1" r="0.3" fill="#999" opacity="0.6"/>
<circle cx="91.4" cy="179.2" r="0.3" fill="#999" opacity="0.6"/>
<circle cx="91.3" cy="167.9" r="0.3" fill="#999" opacity="0.6"/>
<circle cx="93.2" cy="167.6" r="0.3" fill="#999" opacity="0.6"/>
<circle cx="92.3" cy="185.0" r="0.3" fill="#999" opacity="0.6"/>
<circle cx="93.2" cy="170.1" r="0.3" fill="#999" opacity="0.6"/>
<circle cx="93.5" cy="184.4" r="0.3" fill="#999" opacity="0.6"/>
<circle cx="91.6" cy="175.6" r="0.3" fill="#999" opacity="0.6"/>
<circle cx="96.1" cy="170.4" r="0.3" fill="#999" opacity="0.6"/>
<circle cx="93.9" cy="164.6" r="0.3" fill="#999" opacity="0.6"/>
<circle cx="98.3" cy="167.5" r="0.3" fill="#999" opacity="0.6"/>
<circle cx="92.3" cy="176.7" r="0.3" fill="#999" opacity="0.6"/>
<circle cx="93.2" cy="180.7" r="0.3" fill="#999" opacity="0.6"/>
<circle cx="94.0" cy="182.5" r="0.3" fill="#999" opacity="0.6"/>
<circle cx="95.9" cy="171.9" r="0.3" fill="#999" opacity="0.6"/>
<circle cx="103.8" cy="184.5" r="0.3" fill="#999" opacity="0.6"/>
<circle cx="94.1" cy="181.8" r="0.3" fill="#999" opacity="0.6"/>
<circle cx="92.7" cy="164.7" r="0.3" fill="#999" opacity="0.6"/>
<circle cx="95.1" cy="180.6" r="0.3" fill="#999" opacity="0.6"/>
<circle cx="97.4" cy="186.5" r="0.3" fill="#999" opacity="0.6"/>
<circle cx="92.4" cy="172.8" r="0.3" fill="#999" opacity="0.6"/>
<rect x="91.60" y="153.60" width="22.40" height="10.10" fill="none" stroke="#3a3a3a" stroke-width="0.85" />
<path d="M93.4,157 L98.6,159.2 L93.6,161.2 M94.6,158 L96.6,159.2 L94.6,160.2" fill="none" stroke="#aaa" stroke-width="0.45"/>
<text x="107.60" y="152.60" font-size="2.7" text-anchor="middle" font-weight="normal" font-style="normal" fill="#444" stroke="#444" stroke-width="0.1">0.110%</text>
<line x1="114.00" y1="158.50" x2="130.60" y2="158.50" stroke="#3a3a3a" stroke-width="0.85" />
<text x="76.20" y="153.00" font-size="2.4" text-anchor="end" font-weight="normal" font-style="normal" fill="#666" stroke="#666" stroke-width="0.1">10</text>
<text x="76.20" y="161.00" font-size="2.4" text-anchor="end" font-weight="normal" font-style="normal" fill="#666" stroke="#666" stroke-width="0.1">10</text>
<text x="76.20" y="170.50" font-size="2.4" text-anchor="end" font-weight="normal" font-style="normal" fill="#666" stroke="#666" stroke-width="0.1">10</text>
<text x="76.20" y="180.00" font-size="2.4" text-anchor="end" font-weight="normal" font-style="normal" fill="#666" stroke="#666" stroke-width="0.1">10</text>
<text x="80.50" y="193.20" font-size="2.4" text-anchor="middle" font-weight="normal" font-style="normal" fill="#666" stroke="#666" stroke-width="0.1">10</text>
<text x="84.00" y="193.20" font-size="2.4" text-anchor="middle" font-weight="normal" font-style="normal" fill="#666" stroke="#666" stroke-width="0.1">10</text>
<text x="93.00" y="193.20" font-size="2.4" text-anchor="middle" font-weight="normal" font-style="normal" fill="#666" stroke="#666" stroke-width="0.1">10</text>
<text x="102.00" y="193.20" font-size="2.4" text-anchor="middle" font-weight="normal" font-style="normal" fill="#666" stroke="#666" stroke-width="0.1">10</text>
<text x="111.00" y="193.20" font-size="2.4" text-anchor="middle" font-weight="normal" font-style="normal" fill="#666" stroke="#666" stroke-width="0.1">10</text>
<text x="73.30" y="170.60" font-size="6.5" text-anchor="middle" font-weight="normal" font-style="normal" fill="#111" stroke="#111" stroke-width="0.16" transform="rotate(-90 73.30 170.60)">c-kit</text>
<text x="98.60" y="199.40" font-size="6.6" text-anchor="middle" font-weight="normal" font-style="normal" fill="#111" stroke="#111" stroke-width="0.16">Sca1</text>
<line x1="130.40" y1="148.00" x2="172.80" y2="148.00" stroke="#c9c9c9" stroke-width="0.6" />
<line x1="172.80" y1="148.00" x2="172.80" y2="189.20" stroke="#c9c9c9" stroke-width="0.6" />
<line x1="130.40" y1="148.00" x2="130.40" y2="189.20" stroke="#aaa" stroke-width="0.7" />
<line x1="130.40" y1="189.20" x2="172.80" y2="189.20" stroke="#aaa" stroke-width="0.7" />
<ellipse cx="140.40" cy="162.20" rx="5.60" ry="5.20" fill="url(#gA)" stroke="none" stroke-width="0.6" opacity="1"/>
<ellipse cx="144.50" cy="166.50" rx="4.00" ry="4.00" fill="url(#gA)" stroke="none" stroke-width="0.6" opacity="1"/>
<ellipse cx="149.60" cy="165.00" rx="3.60" ry="4.40" fill="url(#gC)" stroke="none" stroke-width="0.6" opacity="1"/>
<ellipse cx="148.00" cy="171.60" rx="5.80" ry="6.20" fill="url(#gB)" stroke="none" stroke-width="0.6" opacity="1"/>
<path d="M145.6,168.6 L149,172.6 M149.2,168.6 L146.2,172.4" stroke="#ccc" stroke-width="0.7" opacity="0.85"/>
<rect x="130.70" y="155.40" width="16.10" height="12.10" fill="none" stroke="#333" stroke-width="0.85" />
<rect x="139.00" y="167.50" width="17.50" height="21.50" fill="none" stroke="#333" stroke-width="0.85" />
<text x="137.30" y="154.50" font-size="2.7" text-anchor="middle" font-weight="normal" font-style="normal" fill="#444" stroke="#444" stroke-width="0.1">0.0754</text>
<text x="163.00" y="188.30" font-size="3.0" text-anchor="middle" font-weight="normal" font-style="normal" fill="#444" stroke="#444" stroke-width="0.1">0.084%</text>
<text x="129.30" y="152.00" font-size="2.4" text-anchor="end" font-weight="normal" font-style="normal" fill="#666" stroke="#666" stroke-width="0.1">10</text>
<text x="129.30" y="161.50" font-size="2.4" text-anchor="end" font-weight="normal" font-style="normal" fill="#666" stroke="#666" stroke-width="0.1">10</text>
<text x="129.30" y="171.00" font-size="2.4" text-anchor="end" font-weight="normal" font-style="normal" fill="#666" stroke="#666" stroke-width="0.1">10</text>
<text x="129.30" y="180.50" font-size="2.4" text-anchor="end" font-weight="normal" font-style="normal" fill="#666" stroke="#666" stroke-width="0.1">10</text>
<text x="129.30" y="186.00" font-size="2.4" text-anchor="end" font-weight="normal" font-style="normal" fill="#666" stroke="#666" stroke-width="0.1">10</text>
<text x="134.00" y="192.40" font-size="2.4" text-anchor="middle" font-weight="normal" font-style="normal" fill="#666" stroke="#666" stroke-width="0.1">10</text>
<text x="138.00" y="192.40" font-size="2.4" text-anchor="middle" font-weight="normal" font-style="normal" fill="#666" stroke="#666" stroke-width="0.1">10</text>
<text x="147.00" y="192.40" font-size="2.4" text-anchor="middle" font-weight="normal" font-style="normal" fill="#666" stroke="#666" stroke-width="0.1">10</text>
<text x="157.00" y="192.40" font-size="2.4" text-anchor="middle" font-weight="normal" font-style="normal" fill="#666" stroke="#666" stroke-width="0.1">10</text>
<text x="166.00" y="192.40" font-size="2.4" text-anchor="middle" font-weight="normal" font-style="normal" fill="#666" stroke="#666" stroke-width="0.1">10</text>
<text x="124.90" y="170.20" font-size="6.9" text-anchor="middle" font-weight="normal" font-style="normal" fill="#111" stroke="#111" stroke-width="0.16" transform="rotate(-90 124.90 170.20)">CD150</text>
<text x="151.40" y="199.40" font-size="6.5" text-anchor="middle" font-weight="normal" font-style="normal" fill="#111" stroke="#111" stroke-width="0.16">Flt3</text>
<text x="26.60" y="221.30" font-size="7.5" text-anchor="start" font-weight="normal" font-style="italic" fill="#111" stroke="#111" stroke-width="0.16">Prdm16<tspan font-size="3.6" dy="-3.0" dx="1.0">-/-</tspan></text>
<line x1="25.50" y1="226.00" x2="66.80" y2="226.00" stroke="#c9c9c9" stroke-width="0.6" />
<line x1="66.80" y1="226.00" x2="66.80" y2="267.40" stroke="#c9c9c9" stroke-width="0.6" />
<line x1="25.50" y1="226.00" x2="25.50" y2="267.40" stroke="#999" stroke-width="0.7" />
<line x1="25.50" y1="267.40" x2="66.80" y2="267.40" stroke="#222" stroke-width="0.7" />
<path d="M25.7,260.6 L25.9,265.6 L27,266.2 L38,266.2 L43,265.8 L46,264.8 L47.6,263 L48.6,259 L49.4,250 L50.2,238 L50.9,229.5 L51.3,227.6 L51.8,229.5 L52.5,238 L53.3,250 L54.2,262 L55.0,266.2 L66.6,266.6" fill="none" stroke="#555" stroke-width="0.7" stroke-linejoin="round"/>
<line x1="40.60" y1="257.30" x2="77.20" y2="257.30" stroke="#262626" stroke-width="1.0" />
<line x1="40.60" y1="257.10" x2="40.60" y2="258.90" stroke="#3a3a3a" stroke-width="0.7" />
<line x1="25.50" y1="260.60" x2="43.50" y2="260.60" stroke="#555" stroke-width="0.7" />
<line x1="43.50" y1="259.80" x2="43.50" y2="261.80" stroke="#555" stroke-width="0.6" />
<text x="35.60" y="259.90" font-size="3.1" text-anchor="middle" font-weight="bold" font-style="normal" fill="#222" stroke="#222" stroke-width="0.1">8.03</text>
<line x1="21.50" y1="231.00" x2="24.00" y2="231.00" stroke="#777" stroke-width="0.5" />
<line x1="21.50" y1="238.20" x2="24.00" y2="238.20" stroke="#777" stroke-width="0.5" />
<line x1="21.50" y1="245.40" x2="24.00" y2="245.40" stroke="#777" stroke-width="0.5" />
<line x1="21.50" y1="252.60" x2="24.00" y2="252.60" stroke="#777" stroke-width="0.5" />
<line x1="21.50" y1="259.80" x2="24.00" y2="259.80" stroke="#777" stroke-width="0.5" />
<line x1="21.50" y1="267.20" x2="24.00" y2="267.20" stroke="#777" stroke-width="0.5" />
<text x="30.50" y="270.60" font-size="2.4" text-anchor="middle" font-weight="normal" font-style="normal" fill="#666" stroke="#666" stroke-width="0.1">10</text>
<text x="36.00" y="270.60" font-size="2.4" text-anchor="middle" font-weight="normal" font-style="normal" fill="#666" stroke="#666" stroke-width="0.1">10</text>
<text x="45.00" y="270.60" font-size="2.4" text-anchor="middle" font-weight="normal" font-style="normal" fill="#666" stroke="#666" stroke-width="0.1">10</text>
<text x="53.70" y="270.60" font-size="2.4" text-anchor="middle" font-weight="normal" font-style="normal" fill="#666" stroke="#666" stroke-width="0.1">10</text>
<text x="63.00" y="270.60" font-size="2.4" text-anchor="middle" font-weight="normal" font-style="normal" fill="#666" stroke="#666" stroke-width="0.1">10</text>
<text x="18.60" y="246.00" font-size="6.5" text-anchor="middle" font-weight="normal" font-style="normal" fill="#111" stroke="#111" stroke-width="0.16" transform="rotate(-90 18.60 246.00)"># cells</text>
<text x="46.30" y="279.20" font-size="6.7" text-anchor="middle" font-weight="normal" font-style="normal" fill="#111" stroke="#111" stroke-width="0.16">lineage</text>
<line x1="25.60" y1="260.40" x2="25.60" y2="267.40" stroke="#222" stroke-width="0.9" />
<line x1="77.30" y1="225.20" x2="118.40" y2="225.20" stroke="#c9c9c9" stroke-width="0.6" />
<line x1="118.40" y1="225.20" x2="118.40" y2="266.80" stroke="#c9c9c9" stroke-width="0.6" />
<line x1="77.30" y1="225.20" x2="77.30" y2="266.80" stroke="#999" stroke-width="0.7" />
<line x1="77.30" y1="266.80" x2="118.40" y2="266.80" stroke="#aaa" stroke-width="0.7" />
<path d="M77.5,230.2 Q77.5,229.2 78.6,229.1 L91.6,229.3 Q93.0,229.4 93.2,231 L93.6,233 L97,233.4 L100.4,234.9 L97.4,236.6 L93.8,237.4 L94.2,244 L94.6,247 L96.8,252 L95.2,258 L94.2,266.8 L77.5,266.8 Z" fill="#141414"/>
<path d="M79.0,231.4 L90.4,231.4 L91.0,238 L90.8,245 L93.0,252 L90.8,258.5 L89.8,264.6 L79.2,264.6 Z" fill="#f4f4f4"/>
<path d="M80.2,232.4 L89.4,232.4 L89.9,238 L89.6,245 L91.7,252 L89.5,258 L88.7,263.5 L80.4,263.5 Z" fill="#b4b4b4"/>
<path d="M80.8,232.9 L89.4,232.9" stroke="#222" stroke-width="0.9"/>
<path d="M81.0,234.3 L89.2,234.3" stroke="#eee" stroke-width="0.6"/>
<path d="M80.6,235.90 L89.2,235.00" stroke="#555" stroke-width="0.35" opacity="0.75"/>
<path d="M80.6,236.94 L89.2,236.04" stroke="#555" stroke-width="0.35" opacity="0.75"/>
<path d="M80.6,237.98 L89.2,237.08" stroke="#555" stroke-width="0.35" opacity="0.75"/>
<path d="M80.6,239.02 L89.2,238.12" stroke="#555" stroke-width="0.35" opacity="0.75"/>
<path d="M80.6,240.06 L89.2,239.16" stroke="#555" stroke-width="0.35" opacity="0.75"/>
<path d="M80.6,241.10 L89.2,240.20" stroke="#555" stroke-width="0.35" opacity="0.75"/>
<path d="M80.6,242.14 L89.2,241.24" stroke="#555" stroke-width="0.35" opacity="0.75"/>
<path d="M80.6,243.18 L89.2,242.28" stroke="#555" stroke-width="0.35" opacity="0.75"/>
<path d="M80.6,244.22 L89.2,243.32" stroke="#555" stroke-width="0.35" opacity="0.75"/>
<path d="M80.6,245.26 L89.2,244.36" stroke="#555" stroke-width="0.35" opacity="0.75"/>
<path d="M80.6,246.30 L89.2,245.40" stroke="#555" stroke-width="0.35" opacity="0.75"/>
<path d="M80.6,247.34 L89.2,246.44" stroke="#555" stroke-width="0.35" opacity="0.75"/>
<path d="M80.6,248.38 L89.2,247.48" stroke="#555" stroke-width="0.35" opacity="0.75"/>
<path d="M80.6,249.42 L89.2,248.52" stroke="#555" stroke-width="0.35" opacity="0.75"/>
<path d="M80.6,250.46 L89.2,249.56" stroke="#555" stroke-width="0.35" opacity="0.75"/>
<path d="M80.6,251.50 L89.2,250.60" stroke="#555" stroke-width="0.35" opacity="0.75"/>
<path d="M80.6,252.54 L89.2,251.64" stroke="#555" stroke-width="0.35" opacity="0.75"/>
<path d="M80.6,253.58 L89.2,252.68" stroke="#555" stroke-width="0.35" opacity="0.75"/>
<path d="M80.6,254.62 L89.2,253.72" stroke="#555" stroke-width="0.35" opacity="0.75"/>
<path d="M80.6,255.66 L89.2,254.76" stroke="#555" stroke-width="0.35" opacity="0.75"/>
<path d="M80.6,256.70 L89.2,255.80" stroke="#555" stroke-width="0.35" opacity="0.75"/>
<path d="M80.6,257.74 L89.2,256.84" stroke="#555" stroke-width="0.35" opacity="0.75"/>
<path d="M80.6,258.78 L89.2,257.88" stroke="#555" stroke-width="0.35" opacity="0.75"/>
<path d="M80.6,259.82 L89.2,258.92" stroke="#555" stroke-width="0.35" opacity="0.75"/>
<path d="M80.6,260.86 L89.2,259.96" stroke="#555" stroke-width="0.35" opacity="0.75"/>
<path d="M80.6,261.90 L89.2,261.00" stroke="#555" stroke-width="0.35" opacity="0.75"/>
<path d="M80.6,262.94 L89.2,262.04" stroke="#555" stroke-width="0.35" opacity="0.75"/>
<path d="M85.4,236 L84.8,246 L86.0,254 L85.2,262.6" stroke="#e4e4e4" stroke-width="1.5" fill="none" opacity="0.9"/>
<path d="M83.0,236 L82.6,250 L83.2,262 M87.6,236 L87.8,246 L89.0,252 L87.6,262" stroke="#ccc" stroke-width="0.6" fill="none" opacity="0.8"/>
<ellipse cx="85.20" cy="234.00" rx="1.70" ry="0.90" fill="#eee" stroke="#333" stroke-width="0.4" opacity="1"/>
<circle cx="97.0" cy="243.5" r="0.36" fill="#333" opacity="0.62"/>
<circle cx="96.7" cy="263.2" r="0.36" fill="#333" opacity="0.62"/>
<circle cx="97.7" cy="256.3" r="0.36" fill="#333" opacity="0.62"/>
<circle cx="98.5" cy="260.4" r="0.36" fill="#333" opacity="0.62"/>
<circle cx="97.1" cy="263.5" r="0.36" fill="#333" opacity="0.62"/>
<circle cx="95.0" cy="259.9" r="0.36" fill="#333" opacity="0.62"/>
<circle cx="94.5" cy="243.0" r="0.36" fill="#333" opacity="0.62"/>
<circle cx="97.4" cy="260.4" r="0.36" fill="#333" opacity="0.62"/>
<circle cx="97.3" cy="265.2" r="0.36" fill="#333" opacity="0.62"/>
<circle cx="96.7" cy="264.5" r="0.36" fill="#333" opacity="0.62"/>
<circle cx="95.7" cy="258.3" r="0.36" fill="#333" opacity="0.62"/>
<circle cx="97.3" cy="242.2" r="0.36" fill="#333" opacity="0.62"/>
<circle cx="96.9" cy="242.1" r="0.36" fill="#333" opacity="0.62"/>
<circle cx="102.0" cy="256.4" r="0.36" fill="#333" opacity="0.62"/>
<circle cx="96.4" cy="247.8" r="0.36" fill="#333" opacity="0.62"/>
<circle cx="97.1" cy="238.4" r="0.36" fill="#333" opacity="0.62"/>
<circle cx="95.7" cy="252.7" r="0.36" fill="#333" opacity="0.62"/>
<circle cx="100.2" cy="264.1" r="0.36" fill="#333" opacity="0.62"/>
<circle cx="97.3" cy="261.1" r="0.36" fill="#333" opacity="0.62"/>
<circle cx="95.8" cy="243.9" r="0.36" fill="#333" opacity="0.62"/>
<circle cx="94.9" cy="244.7" r="0.36" fill="#333" opacity="0.62"/>
<circle cx="99.2" cy="249.7" r="0.36" fill="#333" opacity="0.62"/>
<circle cx="99.5" cy="247.9" r="0.36" fill="#333" opacity="0.62"/>
<circle cx="100.3" cy="250.8" r="0.36" fill="#333" opacity="0.62"/>
<circle cx="98.0" cy="249.8" r="0.36" fill="#333" opacity="0.62"/>
<circle cx="98.4" cy="263.7" r="0.36" fill="#333" opacity="0.62"/>
<circle cx="95.0" cy="252.7" r="0.36" fill="#333" opacity="0.62"/>
<circle cx="94.5" cy="238.5" r="0.36" fill="#333" opacity="0.62"/>
<circle cx="95.3" cy="238.1" r="0.36" fill="#333" opacity="0.62"/>
<circle cx="95.6" cy="251.3" r="0.36" fill="#333" opacity="0.62"/>
<circle cx="98.5" cy="247.1" r="0.36" fill="#333" opacity="0.62"/>
<circle cx="99.6" cy="252.5" r="0.36" fill="#333" opacity="0.62"/>
<circle cx="95.5" cy="241.0" r="0.36" fill="#333" opacity="0.62"/>
<circle cx="94.4" cy="245.8" r="0.36" fill="#333" opacity="0.62"/>
<circle cx="98.3" cy="253.7" r="0.36" fill="#333" opacity="0.62"/>
<circle cx="97.6" cy="259.3" r="0.36" fill="#333" opacity="0.62"/>
<circle cx="96.6" cy="255.2" r="0.36" fill="#333" opacity="0.62"/>
<circle cx="99.3" cy="252.2" r="0.36" fill="#333" opacity="0.62"/>
<circle cx="95.3" cy="250.7" r="0.36" fill="#333" opacity="0.62"/>
<circle cx="101.6" cy="252.9" r="0.36" fill="#333" opacity="0.62"/>
<circle cx="95.9" cy="257.6" r="0.36" fill="#333" opacity="0.62"/>
<circle cx="97.0" cy="262.5" r="0.36" fill="#333" opacity="0.62"/>
<circle cx="95.8" cy="253.7" r="0.36" fill="#333" opacity="0.62"/>
<circle cx="95.8" cy="264.4" r="0.36" fill="#333" opacity="0.62"/>
<circle cx="94.8" cy="241.4" r="0.36" fill="#333" opacity="0.62"/>
<circle cx="96.9" cy="244.7" r="0.36" fill="#333" opacity="0.62"/>
<circle cx="96.8" cy="260.0" r="0.36" fill="#333" opacity="0.62"/>
<circle cx="97.5" cy="263.1" r="0.36" fill="#333" opacity="0.62"/>
<circle cx="98.7" cy="256.5" r="0.36" fill="#333" opacity="0.62"/>
<circle cx="97.9" cy="242.0" r="0.36" fill="#333" opacity="0.62"/>
<circle cx="94.7" cy="244.1" r="0.36" fill="#333" opacity="0.62"/>
<circle cx="100.3" cy="251.6" r="0.36" fill="#333" opacity="0.62"/>
<circle cx="96.4" cy="242.5" r="0.36" fill="#333" opacity="0.62"/>
<circle cx="96.4" cy="247.5" r="0.36" fill="#333" opacity="0.62"/>
<circle cx="97.2" cy="243.5" r="0.36" fill="#333" opacity="0.62"/>
<circle cx="94.8" cy="238.5" r="0.36" fill="#333" opacity="0.62"/>
<circle cx="96.7" cy="238.5" r="0.36" fill="#333" opacity="0.62"/>
<circle cx="102.5" cy="252.3" r="0.36" fill="#333" opacity="0.62"/>
<circle cx="98.2" cy="260.1" r="0.36" fill="#333" opacity="0.62"/>
<circle cx="96.7" cy="265.2" r="0.36" fill="#333" opacity="0.62"/>
<circle cx="94.3" cy="239.1" r="0.36" fill="#333" opacity="0.62"/>
<circle cx="98.3" cy="241.6" r="0.36" fill="#333" opacity="0.62"/>
<circle cx="97.9" cy="260.9" r="0.36" fill="#333" opacity="0.62"/>
<circle cx="98.0" cy="245.2" r="0.36" fill="#333" opacity="0.62"/>
<circle cx="95.4" cy="254.0" r="0.36" fill="#333" opacity="0.62"/>
<circle cx="94.9" cy="239.6" r="0.36" fill="#333" opacity="0.62"/>
<circle cx="96.9" cy="240.0" r="0.36" fill="#333" opacity="0.62"/>
<circle cx="96.5" cy="260.4" r="0.36" fill="#333" opacity="0.62"/>
<circle cx="94.6" cy="240.3" r="0.36" fill="#333" opacity="0.62"/>
<circle cx="97.4" cy="262.2" r="0.36" fill="#333" opacity="0.62"/>
<circle cx="95.7" cy="253.5" r="0.36" fill="#333" opacity="0.62"/>
<circle cx="95.2" cy="263.9" r="0.36" fill="#333" opacity="0.62"/>
<circle cx="96.5" cy="252.8" r="0.36" fill="#333" opacity="0.62"/>
<circle cx="94.8" cy="244.7" r="0.36" fill="#333" opacity="0.62"/>
<circle cx="95.8" cy="239.4" r="0.36" fill="#333" opacity="0.62"/>
<circle cx="95.1" cy="246.5" r="0.36" fill="#333" opacity="0.62"/>
<circle cx="97.3" cy="252.0" r="0.36" fill="#333" opacity="0.62"/>
<circle cx="94.3" cy="243.0" r="0.36" fill="#333" opacity="0.62"/>
<circle cx="94.3" cy="245.0" r="0.36" fill="#333" opacity="0.62"/>
<circle cx="96.2" cy="253.4" r="0.36" fill="#333" opacity="0.62"/>
<circle cx="98.0" cy="264.2" r="0.36" fill="#333" opacity="0.62"/>
<circle cx="96.1" cy="241.0" r="0.36" fill="#333" opacity="0.62"/>
<circle cx="96.4" cy="251.9" r="0.36" fill="#333" opacity="0.62"/>
<circle cx="97.4" cy="252.2" r="0.36" fill="#333" opacity="0.62"/>
<circle cx="97.5" cy="257.3" r="0.36" fill="#333" opacity="0.62"/>
<circle cx="95.3" cy="261.3" r="0.36" fill="#333" opacity="0.62"/>
<circle cx="96.9" cy="257.8" r="0.36" fill="#333" opacity="0.62"/>
<circle cx="97.2" cy="247.7" r="0.36" fill="#333" opacity="0.62"/>
<circle cx="94.6" cy="239.5" r="0.36" fill="#333" opacity="0.62"/>
<circle cx="95.1" cy="258.7" r="0.36" fill="#333" opacity="0.62"/>
<circle cx="96.4" cy="240.4" r="0.36" fill="#333" opacity="0.62"/>
<circle cx="99.8" cy="256.8" r="0.36" fill="#333" opacity="0.62"/>
<circle cx="95.8" cy="245.9" r="0.36" fill="#333" opacity="0.62"/>
<circle cx="96.7" cy="250.9" r="0.36" fill="#333" opacity="0.62"/>
<circle cx="99.7" cy="245.4" r="0.36" fill="#333" opacity="0.62"/>
<circle cx="96.8" cy="253.3" r="0.36" fill="#333" opacity="0.62"/>
<circle cx="94.4" cy="244.8" r="0.36" fill="#333" opacity="0.62"/>
<circle cx="97.7" cy="248.0" r="0.36" fill="#333" opacity="0.62"/>
<circle cx="95.0" cy="251.3" r="0.36" fill="#333" opacity="0.62"/>
<circle cx="96.0" cy="252.1" r="0.36" fill="#333" opacity="0.62"/>
<circle cx="94.1" cy="238.1" r="0.36" fill="#333" opacity="0.62"/>
<circle cx="96.2" cy="249.2" r="0.36" fill="#333" opacity="0.62"/>
<circle cx="94.3" cy="239.2" r="0.36" fill="#333" opacity="0.62"/>
<circle cx="95.4" cy="244.5" r="0.36" fill="#333" opacity="0.62"/>
<circle cx="97.4" cy="259.0" r="0.36" fill="#333" opacity="0.62"/>
<circle cx="98.7" cy="262.6" r="0.36" fill="#333" opacity="0.62"/>
<circle cx="98.7" cy="248.9" r="0.36" fill="#333" opacity="0.62"/>
<circle cx="94.5" cy="242.2" r="0.36" fill="#333" opacity="0.62"/>
<circle cx="96.4" cy="239.2" r="0.36" fill="#333" opacity="0.62"/>
<circle cx="100.1" cy="255.6" r="0.36" fill="#333" opacity="0.62"/>
<circle cx="95.6" cy="258.5" r="0.36" fill="#333" opacity="0.62"/>
<circle cx="96.4" cy="252.7" r="0.36" fill="#333" opacity="0.62"/>
<circle cx="97.6" cy="252.1" r="0.36" fill="#333" opacity="0.62"/>
<circle cx="99.4" cy="261.1" r="0.36" fill="#333" opacity="0.62"/>
<circle cx="98.3" cy="254.4" r="0.36" fill="#333" opacity="0.62"/>
<circle cx="97.6" cy="257.4" r="0.36" fill="#333" opacity="0.62"/>
<circle cx="94.2" cy="244.4" r="0.36" fill="#333" opacity="0.62"/>
<circle cx="99.2" cy="248.1" r="0.36" fill="#333" opacity="0.62"/>
<circle cx="98.3" cy="253.6" r="0.36" fill="#333" opacity="0.62"/>
<circle cx="98.0" cy="255.6" r="0.36" fill="#333" opacity="0.62"/>
<circle cx="98.0" cy="251.7" r="0.36" fill="#333" opacity="0.62"/>
<circle cx="97.5" cy="238.1" r="0.36" fill="#333" opacity="0.62"/>
<circle cx="99.0" cy="252.1" r="0.36" fill="#333" opacity="0.62"/>
<circle cx="94.1" cy="239.8" r="0.36" fill="#333" opacity="0.62"/>
<circle cx="94.3" cy="240.1" r="0.36" fill="#333" opacity="0.62"/>
<circle cx="94.4" cy="243.7" r="0.36" fill="#333" opacity="0.62"/>
<circle cx="102.6" cy="251.8" r="0.36" fill="#333" opacity="0.62"/>
<circle cx="99.2" cy="248.7" r="0.36" fill="#333" opacity="0.62"/>
<circle cx="95.6" cy="259.5" r="0.36" fill="#333" opacity="0.62"/>
<circle cx="95.7" cy="255.3" r="0.36" fill="#333" opacity="0.62"/>
<circle cx="94.1" cy="242.1" r="0.36" fill="#333" opacity="0.62"/>
<circle cx="99.6" cy="246.5" r="0.36" fill="#333" opacity="0.62"/>
<circle cx="96.0" cy="253.9" r="0.36" fill="#333" opacity="0.62"/>
<circle cx="95.6" cy="245.5" r="0.36" fill="#333" opacity="0.62"/>
<circle cx="98.8" cy="256.9" r="0.36" fill="#333" opacity="0.62"/>
<circle cx="98.1" cy="246.1" r="0.36" fill="#333" opacity="0.62"/>
<circle cx="95.3" cy="251.1" r="0.36" fill="#333" opacity="0.62"/>
<circle cx="94.9" cy="241.3" r="0.36" fill="#333" opacity="0.62"/>
<circle cx="95.5" cy="265.4" r="0.36" fill="#333" opacity="0.62"/>
<circle cx="95.2" cy="250.9" r="0.36" fill="#333" opacity="0.62"/>
<circle cx="98.0" cy="261.0" r="0.36" fill="#333" opacity="0.62"/>
<circle cx="95.3" cy="245.5" r="0.36" fill="#333" opacity="0.62"/>
<circle cx="95.1" cy="243.9" r="0.36" fill="#333" opacity="0.62"/>
<circle cx="95.8" cy="252.7" r="0.36" fill="#333" opacity="0.62"/>
<circle cx="98.5" cy="264.7" r="0.36" fill="#333" opacity="0.62"/>
<circle cx="98.8" cy="252.2" r="0.36" fill="#333" opacity="0.62"/>
<circle cx="95.6" cy="262.8" r="0.36" fill="#333" opacity="0.62"/>
<circle cx="96.9" cy="263.1" r="0.36" fill="#333" opacity="0.62"/>
<circle cx="95.2" cy="251.6" r="0.36" fill="#333" opacity="0.62"/>
<circle cx="95.0" cy="251.8" r="0.36" fill="#333" opacity="0.62"/>
<circle cx="95.5" cy="250.6" r="0.36" fill="#333" opacity="0.62"/>
<circle cx="96.5" cy="247.6" r="0.36" fill="#333" opacity="0.62"/>
<circle cx="95.1" cy="246.9" r="0.36" fill="#333" opacity="0.62"/>
<circle cx="95.1" cy="259.0" r="0.36" fill="#333" opacity="0.62"/>
<circle cx="99.7" cy="261.5" r="0.36" fill="#333" opacity="0.62"/>
<circle cx="99.4" cy="258.0" r="0.36" fill="#333" opacity="0.62"/>
<circle cx="95.7" cy="263.2" r="0.36" fill="#333" opacity="0.62"/>
<circle cx="97.6" cy="249.0" r="0.36" fill="#333" opacity="0.62"/>
<circle cx="97.2" cy="266.0" r="0.36" fill="#333" opacity="0.62"/>
<circle cx="96.4" cy="250.0" r="0.36" fill="#333" opacity="0.62"/>
<circle cx="94.3" cy="245.7" r="0.36" fill="#333" opacity="0.62"/>
<circle cx="96.5" cy="261.4" r="0.36" fill="#333" opacity="0.62"/>
<circle cx="94.3" cy="245.0" r="0.36" fill="#333" opacity="0.62"/>
<circle cx="97.8" cy="243.3" r="0.36" fill="#333" opacity="0.62"/>
<circle cx="100.0" cy="262.8" r="0.36" fill="#333" opacity="0.62"/>
<circle cx="99.2" cy="260.7" r="0.36" fill="#333" opacity="0.62"/>
<circle cx="99.5" cy="264.3" r="0.36" fill="#333" opacity="0.62"/>
<circle cx="95.2" cy="253.4" r="0.36" fill="#333" opacity="0.62"/>
<circle cx="95.9" cy="258.5" r="0.36" fill="#333" opacity="0.62"/>
<circle cx="95.1" cy="250.6" r="0.36" fill="#333" opacity="0.62"/>
<circle cx="99.0" cy="246.0" r="0.36" fill="#333" opacity="0.62"/>
<circle cx="94.5" cy="239.4" r="0.36" fill="#333" opacity="0.62"/>
<circle cx="96.3" cy="251.2" r="0.36" fill="#333" opacity="0.62"/>
<circle cx="97.0" cy="258.7" r="0.36" fill="#333" opacity="0.62"/>
<circle cx="95.3" cy="265.3" r="0.36" fill="#333" opacity="0.62"/>
<circle cx="99.1" cy="246.4" r="0.36" fill="#333" opacity="0.62"/>
<circle cx="96.3" cy="253.6" r="0.36" fill="#333" opacity="0.62"/>
<circle cx="95.3" cy="242.5" r="0.36" fill="#333" opacity="0.62"/>
<circle cx="100.9" cy="251.9" r="0.36" fill="#333" opacity="0.62"/>
<circle cx="98.1" cy="244.2" r="0.36" fill="#333" opacity="0.62"/>
<circle cx="96.2" cy="250.6" r="0.36" fill="#333" opacity="0.62"/>
<circle cx="94.5" cy="240.5" r="0.36" fill="#333" opacity="0.62"/>
<circle cx="94.1" cy="244.7" r="0.36" fill="#333" opacity="0.62"/>
<circle cx="98.6" cy="262.8" r="0.36" fill="#333" opacity="0.62"/>
<circle cx="97.5" cy="259.0" r="0.36" fill="#333" opacity="0.62"/>
<circle cx="96.5" cy="252.7" r="0.36" fill="#333" opacity="0.62"/>
<circle cx="95.5" cy="248.6" r="0.36" fill="#333" opacity="0.62"/>
<circle cx="95.1" cy="245.8" r="0.36" fill="#333" opacity="0.62"/>
<circle cx="95.3" cy="252.1" r="0.36" fill="#333" opacity="0.62"/>
<circle cx="96.3" cy="255.6" r="0.36" fill="#333" opacity="0.62"/>
<circle cx="94.0" cy="245.6" r="0.36" fill="#333" opacity="0.62"/>
<circle cx="97.8" cy="250.5" r="0.36" fill="#333" opacity="0.62"/>
<circle cx="98.3" cy="264.7" r="0.36" fill="#333" opacity="0.62"/>
<circle cx="97.4" cy="238.6" r="0.36" fill="#333" opacity="0.62"/>
<circle cx="95.9" cy="263.1" r="0.36" fill="#333" opacity="0.62"/>
<circle cx="95.0" cy="251.3" r="0.36" fill="#333" opacity="0.62"/>
<circle cx="95.0" cy="249.0" r="0.36" fill="#333" opacity="0.62"/>
<circle cx="97.5" cy="264.0" r="0.36" fill="#333" opacity="0.62"/>
<circle cx="99.9" cy="265.2" r="0.36" fill="#333" opacity="0.62"/>
<circle cx="94.8" cy="245.0" r="0.36" fill="#333" opacity="0.62"/>
<circle cx="97.8" cy="252.6" r="0.36" fill="#333" opacity="0.62"/>
<circle cx="101.1" cy="258.2" r="0.36" fill="#333" opacity="0.62"/>
<circle cx="95.3" cy="256.1" r="0.36" fill="#333" opacity="0.62"/>
<circle cx="98.1" cy="253.4" r="0.36" fill="#333" opacity="0.62"/>
<circle cx="95.6" cy="239.1" r="0.36" fill="#333" opacity="0.62"/>
<circle cx="96.5" cy="263.8" r="0.36" fill="#333" opacity="0.62"/>
<circle cx="94.0" cy="241.6" r="0.36" fill="#333" opacity="0.62"/>
<circle cx="99.0" cy="257.6" r="0.36" fill="#333" opacity="0.62"/>
<circle cx="95.1" cy="241.1" r="0.36" fill="#333" opacity="0.62"/>
<circle cx="96.5" cy="254.3" r="0.36" fill="#333" opacity="0.62"/>
<circle cx="96.3" cy="254.8" r="0.36" fill="#333" opacity="0.62"/>
<circle cx="96.3" cy="238.3" r="0.36" fill="#333" opacity="0.62"/>
<circle cx="98.6" cy="264.9" r="0.36" fill="#333" opacity="0.62"/>
<circle cx="99.6" cy="251.3" r="0.36" fill="#333" opacity="0.62"/>
<circle cx="99.6" cy="244.6" r="0.36" fill="#333" opacity="0.62"/>
<circle cx="95.2" cy="257.7" r="0.36" fill="#333" opacity="0.62"/>
<circle cx="95.5" cy="252.0" r="0.36" fill="#333" opacity="0.62"/>
<circle cx="96.9" cy="256.9" r="0.36" fill="#333" opacity="0.62"/>
<circle cx="96.0" cy="256.7" r="0.36" fill="#333" opacity="0.62"/>
<circle cx="95.1" cy="263.9" r="0.36" fill="#333" opacity="0.62"/>
<circle cx="95.7" cy="247.5" r="0.36" fill="#333" opacity="0.62"/>
<circle cx="95.8" cy="249.8" r="0.36" fill="#333" opacity="0.62"/>
<circle cx="96.7" cy="260.3" r="0.36" fill="#333" opacity="0.62"/>
<circle cx="96.9" cy="258.7" r="0.36" fill="#333" opacity="0.62"/>
<circle cx="95.1" cy="265.2" r="0.36" fill="#333" opacity="0.62"/>
<circle cx="95.9" cy="246.7" r="0.36" fill="#333" opacity="0.62"/>
<circle cx="94.1" cy="244.2" r="0.36" fill="#333" opacity="0.62"/>
<circle cx="97.3" cy="264.7" r="0.36" fill="#333" opacity="0.62"/>
<circle cx="95.8" cy="251.9" r="0.36" fill="#333" opacity="0.62"/>
<circle cx="96.8" cy="249.7" r="0.36" fill="#333" opacity="0.62"/>
<circle cx="96.5" cy="256.6" r="0.36" fill="#333" opacity="0.62"/>
<circle cx="95.5" cy="249.0" r="0.36" fill="#333" opacity="0.62"/>
<circle cx="94.2" cy="244.0" r="0.36" fill="#333" opacity="0.62"/>
<circle cx="94.8" cy="239.5" r="0.36" fill="#333" opacity="0.62"/>
<circle cx="98.4" cy="263.1" r="0.36" fill="#333" opacity="0.62"/>
<circle cx="98.0" cy="265.9" r="0.36" fill="#333" opacity="0.62"/>
<circle cx="95.9" cy="264.1" r="0.36" fill="#333" opacity="0.62"/>
<circle cx="96.6" cy="264.2" r="0.36" fill="#333" opacity="0.62"/>
<circle cx="99.1" cy="258.9" r="0.36" fill="#333" opacity="0.62"/>
<circle cx="95.8" cy="248.6" r="0.36" fill="#333" opacity="0.62"/>
<circle cx="95.8" cy="248.5" r="0.36" fill="#333" opacity="0.62"/>
<circle cx="94.4" cy="238.1" r="0.36" fill="#333" opacity="0.62"/>
<circle cx="97.6" cy="264.8" r="0.36" fill="#333" opacity="0.62"/>
<circle cx="94.3" cy="241.5" r="0.36" fill="#333" opacity="0.62"/>
<circle cx="97.3" cy="248.0" r="0.36" fill="#333" opacity="0.62"/>
<circle cx="99.7" cy="250.1" r="0.36" fill="#333" opacity="0.62"/>
<circle cx="94.4" cy="239.4" r="0.36" fill="#333" opacity="0.62"/>
<circle cx="95.9" cy="263.7" r="0.36" fill="#333" opacity="0.62"/>
<circle cx="97.5" cy="263.1" r="0.36" fill="#333" opacity="0.62"/>
<circle cx="96.1" cy="238.8" r="0.36" fill="#333" opacity="0.62"/>
<circle cx="95.7" cy="259.5" r="0.36" fill="#333" opacity="0.62"/>
<circle cx="95.5" cy="239.8" r="0.36" fill="#333" opacity="0.62"/>
<circle cx="96.0" cy="258.9" r="0.36" fill="#333" opacity="0.62"/>
<circle cx="96.2" cy="263.2" r="0.36" fill="#333" opacity="0.62"/>
<circle cx="96.9" cy="264.8" r="0.36" fill="#333" opacity="0.62"/>
<circle cx="95.3" cy="255.3" r="0.36" fill="#333" opacity="0.62"/>
<circle cx="99.4" cy="246.9" r="0.36" fill="#333" opacity="0.62"/>
<circle cx="94.1" cy="245.7" r="0.36" fill="#333" opacity="0.62"/>
<circle cx="99.5" cy="263.7" r="0.36" fill="#333" opacity="0.62"/>
<circle cx="94.3" cy="238.7" r="0.36" fill="#333" opacity="0.62"/>
<rect x="92.30" y="230.00" width="22.10" height="10.20" fill="#fff" stroke="#3a3a3a" stroke-width="0.85" />
<path d="M92.6,233.0 L97,233.4 L100.6,234.9 L97.4,236.6 L92.6,237.4 Z" fill="#1c1c1c"/>
<path d="M100,234.8 L103,234.9" stroke="#777" stroke-width="0.8" opacity="0.6"/>
<text x="110.00" y="229.20" font-size="2.7" text-anchor="middle" font-weight="normal" font-style="normal" fill="#444" stroke="#444" stroke-width="0.1">0.0575</text>
<text x="76.20" y="230.00" font-size="2.4" text-anchor="end" font-weight="normal" font-style="normal" fill="#666" stroke="#666" stroke-width="0.1">10</text>
<text x="76.20" y="239.00" font-size="2.4" text-anchor="end" font-weight="normal" font-style="normal" fill="#666" stroke="#666" stroke-width="0.1">10</text>
<text x="76.20" y="248.50" font-size="2.4" text-anchor="end" font-weight="normal" font-style="normal" fill="#666" stroke="#666" stroke-width="0.1">10</text>
<text x="76.20" y="258.00" font-size="2.4" text-anchor="end" font-weight="normal" font-style="normal" fill="#666" stroke="#666" stroke-width="0.1">10</text>
<text x="80.50" y="270.00" font-size="2.4" text-anchor="middle" font-weight="normal" font-style="normal" fill="#666" stroke="#666" stroke-width="0.1">10</text>
<text x="84.00" y="270.00" font-size="2.4" text-anchor="middle" font-weight="normal" font-style="normal" fill="#666" stroke="#666" stroke-width="0.1">10</text>
<text x="93.00" y="270.00" font-size="2.4" text-anchor="middle" font-weight="normal" font-style="normal" fill="#666" stroke="#666" stroke-width="0.1">10</text>
<text x="102.00" y="270.00" font-size="2.4" text-anchor="middle" font-weight="normal" font-style="normal" fill="#666" stroke="#666" stroke-width="0.1">10</text>
<text x="111.00" y="270.00" font-size="2.4" text-anchor="middle" font-weight="normal" font-style="normal" fill="#666" stroke="#666" stroke-width="0.1">10</text>
<text x="98.40" y="279.20" font-size="6.6" text-anchor="middle" font-weight="normal" font-style="normal" fill="#111" stroke="#111" stroke-width="0.16">Sca1</text>
<line x1="130.40" y1="225.50" x2="172.80" y2="225.50" stroke="#c9c9c9" stroke-width="0.6" />
<line x1="172.80" y1="225.50" x2="172.80" y2="267.20" stroke="#c9c9c9" stroke-width="0.6" />
<line x1="130.40" y1="225.50" x2="130.40" y2="267.20" stroke="#aaa" stroke-width="0.7" />
<line x1="130.40" y1="267.20" x2="172.80" y2="267.20" stroke="#aaa" stroke-width="0.7" />
<ellipse cx="139.80" cy="240.60" rx="5.00" ry="3.80" fill="url(#gC)" stroke="none" stroke-width="0.6" opacity="1" transform="rotate(28 139.80 240.60)"/>
<ellipse cx="139.90" cy="240.80" rx="4.60" ry="3.40" fill="none" stroke="#a5a5a5" stroke-width="0.5" opacity="1" transform="rotate(28 139.90 240.80)"/>
<ellipse cx="139.90" cy="240.80" rx="3.20" ry="2.30" fill="none" stroke="#8f8f8f" stroke-width="0.5" opacity="1" transform="rotate(28 139.90 240.80)"/>
<ellipse cx="139.90" cy="240.80" rx="1.80" ry="1.20" fill="none" stroke="#8f8f8f" stroke-width="0.5" opacity="1" transform="rotate(28 139.90 240.80)"/>
<ellipse cx="147.40" cy="249.60" rx="7.60" ry="5.60" fill="url(#gA)" stroke="none" stroke-width="0.6" opacity="1" transform="rotate(28 147.40 249.60)"/>
<ellipse cx="147.50" cy="249.40" rx="7.40" ry="5.50" fill="none" stroke="#999" stroke-width="0.5" opacity="1" transform="rotate(28 147.50 249.40)"/>
<ellipse cx="147.50" cy="249.40" rx="6.20" ry="4.60" fill="none" stroke="#888" stroke-width="0.55" opacity="1" transform="rotate(28 147.50 249.40)"/>
<ellipse cx="147.50" cy="249.40" rx="5.00" ry="3.70" fill="none" stroke="#777" stroke-width="0.55" opacity="1" transform="rotate(28 147.50 249.40)"/>
<ellipse cx="147.50" cy="249.40" rx="3.80" ry="2.80" fill="none" stroke="#666" stroke-width="0.6" opacity="1" transform="rotate(28 147.50 249.40)"/>
<ellipse cx="147.50" cy="249.40" rx="2.60" ry="1.90" fill="none" stroke="#555" stroke-width="0.6" opacity="1" transform="rotate(28 147.50 249.40)"/>
<ellipse cx="147.50" cy="249.40" rx="1.30" ry="0.90" fill="none" stroke="#555" stroke-width="0.6" opacity="1" transform="rotate(28 147.50 249.40)"/>
<path d="M143.2,245.6 L150.4,247.6 L150.8,246.2 L146,245.3 Z" fill="#222" opacity="0.75"/>
<path d="M146.6,247.4 L151.6,250.2" stroke="#eee" stroke-width="0.8" opacity="0.9"/>
<rect x="130.70" y="233.50" width="15.30" height="11.70" fill="none" stroke="#222" stroke-width="0.95" />
<rect x="138.20" y="245.20" width="17.80" height="21.80" fill="none" stroke="#222" stroke-width="1.0" />
<text x="136.00" y="232.60" font-size="2.7" text-anchor="middle" font-weight="normal" font-style="normal" fill="#444" stroke="#444" stroke-width="0.1">0.0726</text>
<text x="162.00" y="266.30" font-size="3.0" text-anchor="middle" font-weight="normal" font-style="normal" fill="#444" stroke="#444" stroke-width="0.1">0.039%</text>
<line x1="114.40" y1="235.40" x2="130.70" y2="235.40" stroke="#3a3a3a" stroke-width="0.85" />
<text x="129.30" y="230.00" font-size="2.4" text-anchor="end" font-weight="normal" font-style="normal" fill="#666" stroke="#666" stroke-width="0.1">10</text>
<text x="129.30" y="239.00" font-size="2.4" text-anchor="end" font-weight="normal" font-style="normal" fill="#666" stroke="#666" stroke-width="0.1">10</text>
<text x="129.30" y="248.50" font-size="2.4" text-anchor="end" font-weight="normal" font-style="normal" fill="#666" stroke="#666" stroke-width="0.1">10</text>
<text x="129.30" y="258.00" font-size="2.4" text-anchor="end" font-weight="normal" font-style="normal" fill="#666" stroke="#666" stroke-width="0.1">10</text>
<text x="129.30" y="263.50" font-size="2.4" text-anchor="end" font-weight="normal" font-style="normal" fill="#666" stroke="#666" stroke-width="0.1">10</text>
<text x="134.00" y="270.40" font-size="2.4" text-anchor="middle" font-weight="normal" font-style="normal" fill="#666" stroke="#666" stroke-width="0.1">10</text>
<text x="138.00" y="270.40" font-size="2.4" text-anchor="middle" font-weight="normal" font-style="normal" fill="#666" stroke="#666" stroke-width="0.1">10</text>
<text x="147.00" y="270.40" font-size="2.4" text-anchor="middle" font-weight="normal" font-style="normal" fill="#666" stroke="#666" stroke-width="0.1">10</text>
<text x="157.00" y="270.40" font-size="2.4" text-anchor="middle" font-weight="normal" font-style="normal" fill="#666" stroke="#666" stroke-width="0.1">10</text>
<text x="166.00" y="270.40" font-size="2.4" text-anchor="middle" font-weight="normal" font-style="normal" fill="#666" stroke="#666" stroke-width="0.1">10</text>
<text x="151.40" y="279.20" font-size="6.5" text-anchor="middle" font-weight="normal" font-style="normal" fill="#111" stroke="#111" stroke-width="0.16">Flt3</text>
</svg>
</body></html>
